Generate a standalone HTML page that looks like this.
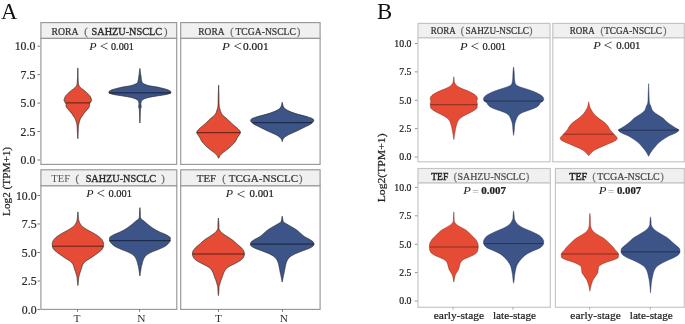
<!DOCTYPE html>
<html><head><meta charset="utf-8"><title>Violin plots</title>
<style>
html,body{margin:0;padding:0;background:#fff;}
body{width:685px;height:324px;overflow:hidden;font-family:"Liberation Serif",serif;}
svg{display:block;filter:blur(0.35px);}
</style></head><body>
<svg width="685" height="324" viewBox="0 0 685 324" font-family="'Liberation Serif', serif"><text x="1.00" y="19.20" font-size="22.60" text-anchor="start" fill="#111" font-weight="normal" font-style="normal" stroke="none">A</text><text x="377.00" y="19.20" font-size="22.80" text-anchor="start" fill="#111" font-weight="normal" font-style="normal" stroke="none">B</text><rect x="40.90" y="22.60" width="135.80" height="15.80" fill="#f0f0f0" stroke="#979797" stroke-width="1.15"/><rect x="40.90" y="38.40" width="135.80" height="126.00" fill="#fff" stroke="#979797" stroke-width="1.15"/><rect x="180.70" y="22.60" width="139.40" height="15.80" fill="#f0f0f0" stroke="#979797" stroke-width="1.15"/><rect x="180.70" y="38.40" width="139.40" height="126.00" fill="#fff" stroke="#979797" stroke-width="1.15"/><rect x="40.90" y="169.80" width="135.90" height="16.10" fill="#f0f0f0" stroke="#979797" stroke-width="1.15"/><rect x="40.90" y="185.90" width="135.90" height="123.50" fill="#fff" stroke="#979797" stroke-width="1.15"/><rect x="180.70" y="169.80" width="139.40" height="16.10" fill="#f0f0f0" stroke="#979797" stroke-width="1.15"/><rect x="180.70" y="185.90" width="139.40" height="123.50" fill="#fff" stroke="#979797" stroke-width="1.15"/><line x1="37.40" y1="46.20" x2="40.00" y2="46.20" stroke="#555" stroke-width="0.8"/><text x="35.30" y="50.21" font-size="11.80" text-anchor="end" fill="#2a2a2a" font-weight="normal" font-style="normal"  stroke="#2a2a2a" stroke-width="0.22">10.0</text><line x1="37.40" y1="74.65" x2="40.00" y2="74.65" stroke="#555" stroke-width="0.8"/><text x="35.30" y="78.66" font-size="11.80" text-anchor="end" fill="#2a2a2a" font-weight="normal" font-style="normal"  stroke="#2a2a2a" stroke-width="0.22">7.5</text><line x1="37.40" y1="103.10" x2="40.00" y2="103.10" stroke="#555" stroke-width="0.8"/><text x="35.30" y="107.11" font-size="11.80" text-anchor="end" fill="#2a2a2a" font-weight="normal" font-style="normal"  stroke="#2a2a2a" stroke-width="0.22">5.0</text><line x1="37.40" y1="131.55" x2="40.00" y2="131.55" stroke="#555" stroke-width="0.8"/><text x="35.30" y="135.56" font-size="11.80" text-anchor="end" fill="#2a2a2a" font-weight="normal" font-style="normal"  stroke="#2a2a2a" stroke-width="0.22">2.5</text><line x1="37.40" y1="160.00" x2="40.00" y2="160.00" stroke="#555" stroke-width="0.8"/><text x="35.30" y="164.01" font-size="11.80" text-anchor="end" fill="#2a2a2a" font-weight="normal" font-style="normal"  stroke="#2a2a2a" stroke-width="0.22">0.0</text><line x1="37.40" y1="195.50" x2="40.00" y2="195.50" stroke="#555" stroke-width="0.8"/><text x="36.60" y="199.51" font-size="11.80" text-anchor="end" fill="#2a2a2a" font-weight="normal" font-style="normal"  stroke="#2a2a2a" stroke-width="0.22">10.0</text><line x1="37.40" y1="224.00" x2="40.00" y2="224.00" stroke="#555" stroke-width="0.8"/><text x="36.60" y="228.01" font-size="11.80" text-anchor="end" fill="#2a2a2a" font-weight="normal" font-style="normal"  stroke="#2a2a2a" stroke-width="0.22">7.5</text><line x1="37.40" y1="252.50" x2="40.00" y2="252.50" stroke="#555" stroke-width="0.8"/><text x="36.60" y="256.51" font-size="11.80" text-anchor="end" fill="#2a2a2a" font-weight="normal" font-style="normal"  stroke="#2a2a2a" stroke-width="0.22">5.0</text><line x1="37.40" y1="281.00" x2="40.00" y2="281.00" stroke="#555" stroke-width="0.8"/><text x="36.60" y="285.01" font-size="11.80" text-anchor="end" fill="#2a2a2a" font-weight="normal" font-style="normal"  stroke="#2a2a2a" stroke-width="0.22">2.5</text><line x1="37.40" y1="309.50" x2="40.00" y2="309.50" stroke="#555" stroke-width="0.8"/><text x="36.60" y="313.51" font-size="11.80" text-anchor="end" fill="#2a2a2a" font-weight="normal" font-style="normal"  stroke="#2a2a2a" stroke-width="0.22">0.0</text><text x="51.45" y="35.00" font-size="9.70" text-anchor="start" fill="#333" font-weight="normal" font-style="normal" textLength="27.10" lengthAdjust="spacingAndGlyphs"  stroke="#333" stroke-width="0.22">RORA</text><text x="84.27" y="35.00" font-size="10.50" text-anchor="start" fill="#666" font-weight="normal" font-style="normal"  stroke="#666" stroke-width="0.22">(</text><text x="91.55" y="35.00" font-size="10.60" text-anchor="start" fill="#2a2a2a" font-weight="normal" font-style="normal" textLength="70.50" lengthAdjust="spacingAndGlyphs" stroke="#2a2a2a" stroke-width="0.35">SAHZU-NSCLC</text><text x="164.07" y="35.00" font-size="10.50" text-anchor="start" fill="#666" font-weight="normal" font-style="normal"  stroke="#666" stroke-width="0.22">)</text><text x="198.25" y="35.00" font-size="9.70" text-anchor="start" fill="#333" font-weight="normal" font-style="normal" textLength="26.30" lengthAdjust="spacingAndGlyphs"  stroke="#333" stroke-width="0.22">RORA</text><text x="230.30" y="35.00" font-size="10.00" text-anchor="start" fill="#666" font-weight="normal" font-style="normal"  stroke="#666" stroke-width="0.22">(</text><text x="235.45" y="35.00" font-size="9.90" text-anchor="start" fill="#333" font-weight="normal" font-style="normal" textLength="60.50" lengthAdjust="spacingAndGlyphs"  stroke="#333" stroke-width="0.22">TCGA-NSCLC</text><text x="296.90" y="35.00" font-size="10.00" text-anchor="start" fill="#666" font-weight="normal" font-style="normal"  stroke="#666" stroke-width="0.22">)</text><text x="51.35" y="182.30" font-size="9.90" text-anchor="start" fill="#555" font-weight="normal" font-style="normal" textLength="18.90" lengthAdjust="spacingAndGlyphs" stroke="none">TEF</text><text x="75.57" y="182.30" font-size="10.50" text-anchor="start" fill="#666" font-weight="normal" font-style="normal"  stroke="#666" stroke-width="0.22">(</text><text x="85.65" y="182.30" font-size="10.80" text-anchor="start" fill="#2a2a2a" font-weight="normal" font-style="normal" textLength="70.40" lengthAdjust="spacingAndGlyphs" stroke="#2a2a2a" stroke-width="0.35">SAHZU-NSCLC</text><text x="161.37" y="182.30" font-size="10.50" text-anchor="start" fill="#666" font-weight="normal" font-style="normal"  stroke="#666" stroke-width="0.22">)</text><text x="196.85" y="182.20" font-size="10.40" text-anchor="start" fill="#333" font-weight="normal" font-style="normal" textLength="19.30" lengthAdjust="spacingAndGlyphs"  stroke="#333" stroke-width="0.22">TEF</text><text x="222.28" y="182.20" font-size="10.40" text-anchor="start" fill="#666" font-weight="normal" font-style="normal"  stroke="#666" stroke-width="0.22">(</text><text x="228.75" y="182.20" font-size="10.40" text-anchor="start" fill="#333" font-weight="normal" font-style="normal" textLength="69.30" lengthAdjust="spacingAndGlyphs"  stroke="#333" stroke-width="0.22">TCGA-NSCLC</text><text x="298.88" y="182.20" font-size="10.40" text-anchor="start" fill="#666" font-weight="normal" font-style="normal"  stroke="#666" stroke-width="0.22">)</text><text x="89.20" y="50.30" font-size="11.20" fill="#222" font-style="italic" stroke="none" textLength="7.30" lengthAdjust="spacingAndGlyphs">P</text><text x="99.70" y="51.40" font-size="14.56" fill="#222" stroke="none" textLength="8.60" lengthAdjust="spacingAndGlyphs">&lt;</text><text x="111.00" y="50.30" font-size="11.20" fill="#222" font-weight="normal" textLength="22.90" lengthAdjust="spacingAndGlyphs" stroke="#222" stroke-width="0.22">0.001</text><text x="222.10" y="50.10" font-size="11.20" fill="#222" font-style="italic" stroke="none" textLength="7.90" lengthAdjust="spacingAndGlyphs">P</text><text x="233.40" y="51.20" font-size="14.56" fill="#222" stroke="none" textLength="8.50" lengthAdjust="spacingAndGlyphs">&lt;</text><text x="243.10" y="50.10" font-size="11.20" fill="#222" font-weight="normal" textLength="25.50" lengthAdjust="spacingAndGlyphs" stroke="#222" stroke-width="0.22">0.001</text><text x="86.20" y="197.20" font-size="11.20" fill="#222" font-style="italic" stroke="none" textLength="7.30" lengthAdjust="spacingAndGlyphs">P</text><text x="96.40" y="198.30" font-size="14.56" fill="#222" stroke="none" textLength="8.50" lengthAdjust="spacingAndGlyphs">&lt;</text><text x="108.40" y="197.20" font-size="11.20" fill="#222" font-weight="normal" textLength="23.60" lengthAdjust="spacingAndGlyphs" stroke="#222" stroke-width="0.22">0.001</text><text x="225.80" y="197.40" font-size="11.20" fill="#222" font-style="italic" stroke="none" textLength="7.30" lengthAdjust="spacingAndGlyphs">P</text><text x="236.40" y="198.50" font-size="14.56" fill="#222" stroke="none" textLength="8.90" lengthAdjust="spacingAndGlyphs">&lt;</text><text x="249.60" y="197.40" font-size="11.20" fill="#222" font-weight="normal" textLength="24.30" lengthAdjust="spacingAndGlyphs" stroke="#222" stroke-width="0.22">0.001</text><line x1="77.50" y1="309.40" x2="77.50" y2="311.80" stroke="#555" stroke-width="0.8"/><text x="76.90" y="321.80" font-size="11.40" text-anchor="middle" fill="#333" font-weight="normal" font-style="normal" stroke="none">T</text><line x1="139.60" y1="309.40" x2="139.60" y2="311.80" stroke="#555" stroke-width="0.8"/><text x="141.40" y="321.80" font-size="11.40" text-anchor="middle" fill="#333" font-weight="normal" font-style="normal" stroke="none">N</text><line x1="218.50" y1="309.40" x2="218.50" y2="311.80" stroke="#555" stroke-width="0.8"/><text x="218.50" y="321.80" font-size="11.40" text-anchor="middle" fill="#333" font-weight="normal" font-style="normal" stroke="none">T</text><line x1="282.50" y1="309.40" x2="282.50" y2="311.80" stroke="#555" stroke-width="0.8"/><text x="283.80" y="321.80" font-size="11.40" text-anchor="middle" fill="#333" font-weight="normal" font-style="normal" stroke="none">N</text><text transform="translate(10.1,181.4) rotate(-90)" font-size="11.1" text-anchor="middle" fill="#222" textLength="69" lengthAdjust="spacingAndGlyphs" stroke="#222" stroke-width="0.22">Log2 (TPM+1)</text><rect x="418.00" y="23.40" width="132.00" height="14.50" fill="#f0f0f0" stroke="#c4c4c4" stroke-width="1.15"/><rect x="418.00" y="37.90" width="132.00" height="123.90" fill="#fff" stroke="#c4c4c4" stroke-width="1.15"/><rect x="552.80" y="23.40" width="131.50" height="14.50" fill="#f0f0f0" stroke="#c4c4c4" stroke-width="1.15"/><rect x="552.80" y="37.90" width="131.50" height="123.90" fill="#fff" stroke="#c4c4c4" stroke-width="1.15"/><rect x="418.00" y="168.50" width="132.30" height="14.50" fill="#f0f0f0" stroke="#c4c4c4" stroke-width="1.15"/><rect x="418.00" y="183.00" width="132.30" height="124.30" fill="#fff" stroke="#c4c4c4" stroke-width="1.15"/><rect x="555.40" y="168.50" width="128.90" height="14.50" fill="#f0f0f0" stroke="#c4c4c4" stroke-width="1.15"/><rect x="555.40" y="183.00" width="128.90" height="124.30" fill="#fff" stroke="#c4c4c4" stroke-width="1.15"/><line x1="414.90" y1="43.50" x2="417.50" y2="43.50" stroke="#777" stroke-width="0.8"/><text x="411.50" y="46.83" font-size="9.80" text-anchor="end" fill="#222" font-weight="normal" font-style="normal"  stroke="#222" stroke-width="0.22">10.0</text><line x1="414.90" y1="71.88" x2="417.50" y2="71.88" stroke="#777" stroke-width="0.8"/><text x="411.50" y="75.21" font-size="9.80" text-anchor="end" fill="#222" font-weight="normal" font-style="normal"  stroke="#222" stroke-width="0.22">7.5</text><line x1="414.90" y1="100.25" x2="417.50" y2="100.25" stroke="#777" stroke-width="0.8"/><text x="411.50" y="103.58" font-size="9.80" text-anchor="end" fill="#222" font-weight="normal" font-style="normal"  stroke="#222" stroke-width="0.22">5.0</text><line x1="414.90" y1="128.62" x2="417.50" y2="128.62" stroke="#777" stroke-width="0.8"/><text x="411.50" y="131.96" font-size="9.80" text-anchor="end" fill="#222" font-weight="normal" font-style="normal"  stroke="#222" stroke-width="0.22">2.5</text><line x1="414.90" y1="157.00" x2="417.50" y2="157.00" stroke="#777" stroke-width="0.8"/><text x="411.50" y="160.33" font-size="9.80" text-anchor="end" fill="#222" font-weight="normal" font-style="normal"  stroke="#222" stroke-width="0.22">0.0</text><line x1="414.90" y1="187.40" x2="417.50" y2="187.40" stroke="#777" stroke-width="0.8"/><text x="411.50" y="190.73" font-size="9.80" text-anchor="end" fill="#222" font-weight="normal" font-style="normal"  stroke="#222" stroke-width="0.22">10.0</text><line x1="414.90" y1="215.80" x2="417.50" y2="215.80" stroke="#777" stroke-width="0.8"/><text x="411.50" y="219.13" font-size="9.80" text-anchor="end" fill="#222" font-weight="normal" font-style="normal"  stroke="#222" stroke-width="0.22">7.5</text><line x1="414.90" y1="244.20" x2="417.50" y2="244.20" stroke="#777" stroke-width="0.8"/><text x="411.50" y="247.53" font-size="9.80" text-anchor="end" fill="#222" font-weight="normal" font-style="normal"  stroke="#222" stroke-width="0.22">5.0</text><line x1="414.90" y1="272.60" x2="417.50" y2="272.60" stroke="#777" stroke-width="0.8"/><text x="411.50" y="275.93" font-size="9.80" text-anchor="end" fill="#222" font-weight="normal" font-style="normal"  stroke="#222" stroke-width="0.22">2.5</text><line x1="414.90" y1="301.00" x2="417.50" y2="301.00" stroke="#777" stroke-width="0.8"/><text x="411.50" y="304.33" font-size="9.80" text-anchor="end" fill="#222" font-weight="normal" font-style="normal"  stroke="#222" stroke-width="0.22">0.0</text><text x="430.85" y="34.00" font-size="9.40" text-anchor="start" fill="#333" font-weight="normal" font-style="normal" textLength="25.00" lengthAdjust="spacingAndGlyphs"  stroke="#333" stroke-width="0.22">RORA</text><text x="460.72" y="34.00" font-size="9.60" text-anchor="start" fill="#666" font-weight="normal" font-style="normal"  stroke="#666" stroke-width="0.22">(</text><text x="465.45" y="34.00" font-size="9.40" text-anchor="start" fill="#333" font-weight="normal" font-style="normal" textLength="63.50" lengthAdjust="spacingAndGlyphs"  stroke="#333" stroke-width="0.22">SAHZU-NSCLC</text><text x="529.32" y="34.00" font-size="9.60" text-anchor="start" fill="#666" font-weight="normal" font-style="normal"  stroke="#666" stroke-width="0.22">)</text><text x="569.65" y="34.00" font-size="9.40" text-anchor="start" fill="#333" font-weight="normal" font-style="normal" textLength="25.10" lengthAdjust="spacingAndGlyphs"  stroke="#333" stroke-width="0.22">RORA</text><text x="600.42" y="34.00" font-size="9.60" text-anchor="start" fill="#666" font-weight="normal" font-style="normal"  stroke="#666" stroke-width="0.22">(</text><text x="604.25" y="34.00" font-size="9.40" text-anchor="start" fill="#333" font-weight="normal" font-style="normal" textLength="57.60" lengthAdjust="spacingAndGlyphs"  stroke="#333" stroke-width="0.22">TCGA-NSCLC</text><text x="663.22" y="34.00" font-size="9.60" text-anchor="start" fill="#666" font-weight="normal" font-style="normal"  stroke="#666" stroke-width="0.22">)</text><text x="431.25" y="180.10" font-size="9.80" text-anchor="start" fill="#222" font-weight="normal" font-style="normal" textLength="17.10" lengthAdjust="spacingAndGlyphs" stroke="#222" stroke-width="0.4">TEF</text><text x="453.72" y="180.10" font-size="9.60" text-anchor="start" fill="#666" font-weight="normal" font-style="normal"  stroke="#666" stroke-width="0.22">(</text><text x="457.55" y="180.10" font-size="9.60" text-anchor="start" fill="#4a4a4a" font-weight="normal" font-style="normal" textLength="67.90" lengthAdjust="spacingAndGlyphs"  stroke="#4a4a4a" stroke-width="0.22">SAHZU-NSCLC</text><text x="526.12" y="180.10" font-size="9.60" text-anchor="start" fill="#666" font-weight="normal" font-style="normal"  stroke="#666" stroke-width="0.22">)</text><text x="569.25" y="180.10" font-size="9.80" text-anchor="start" fill="#222" font-weight="normal" font-style="normal" textLength="18.00" lengthAdjust="spacingAndGlyphs" stroke="#222" stroke-width="0.4">TEF</text><text x="592.52" y="180.10" font-size="9.60" text-anchor="start" fill="#666" font-weight="normal" font-style="normal"  stroke="#666" stroke-width="0.22">(</text><text x="597.25" y="180.10" font-size="9.60" text-anchor="start" fill="#444" font-weight="normal" font-style="normal" textLength="62.40" lengthAdjust="spacingAndGlyphs"  stroke="#444" stroke-width="0.22">TCGA-NSCLC</text><text x="660.62" y="180.10" font-size="9.60" text-anchor="start" fill="#666" font-weight="normal" font-style="normal"  stroke="#666" stroke-width="0.22">)</text><text x="460.00" y="49.90" font-size="11.00" fill="#222" font-style="italic" stroke="none" textLength="7.60" lengthAdjust="spacingAndGlyphs">P</text><text x="470.50" y="51.00" font-size="14.30" fill="#222" stroke="none" textLength="8.60" lengthAdjust="spacingAndGlyphs">&lt;</text><text x="482.60" y="49.90" font-size="11.00" fill="#222" font-weight="normal" textLength="23.50" lengthAdjust="spacingAndGlyphs" stroke="#222" stroke-width="0.22">0.001</text><text x="593.20" y="49.10" font-size="11.00" fill="#222" font-style="italic" stroke="none" textLength="7.60" lengthAdjust="spacingAndGlyphs">P</text><text x="603.40" y="50.20" font-size="14.30" fill="#222" stroke="none" textLength="8.90" lengthAdjust="spacingAndGlyphs">&lt;</text><text x="616.20" y="49.10" font-size="11.00" fill="#222" font-weight="normal" textLength="24.30" lengthAdjust="spacingAndGlyphs" stroke="#222" stroke-width="0.22">0.001</text><text x="463.20" y="194.00" font-size="11.00" fill="#222" font-style="italic" stroke="none" textLength="7.60" lengthAdjust="spacingAndGlyphs">P</text><text x="472.20" y="195.60" font-size="13.20" fill="#aaa" stroke="none" textLength="6.70" lengthAdjust="spacingAndGlyphs">=</text><text x="481.20" y="194.00" font-size="11.00" fill="#222" font-weight="bold" textLength="24.80" lengthAdjust="spacingAndGlyphs" stroke="#222" stroke-width="0.22">0.007</text><text x="598.80" y="194.00" font-size="11.00" fill="#222" font-style="italic" stroke="none" textLength="7.70" lengthAdjust="spacingAndGlyphs">P</text><text x="607.80" y="195.60" font-size="13.20" fill="#aaa" stroke="none" textLength="6.70" lengthAdjust="spacingAndGlyphs">=</text><text x="616.90" y="194.00" font-size="11.00" fill="#222" font-weight="bold" textLength="24.30" lengthAdjust="spacingAndGlyphs" stroke="#222" stroke-width="0.22">0.007</text><line x1="453.00" y1="307.30" x2="453.00" y2="309.70" stroke="#999" stroke-width="0.8"/><text x="458.90" y="318.90" font-size="11.30" text-anchor="middle" fill="#222" font-weight="normal" font-style="normal" textLength="50.40" lengthAdjust="spacingAndGlyphs"  stroke="#222" stroke-width="0.22">early-stage</text><line x1="512.90" y1="307.30" x2="512.90" y2="309.70" stroke="#999" stroke-width="0.8"/><text x="514.50" y="318.90" font-size="11.30" text-anchor="middle" fill="#222" font-weight="normal" font-style="normal" textLength="43.10" lengthAdjust="spacingAndGlyphs"  stroke="#222" stroke-width="0.22">late-stage</text><line x1="589.60" y1="307.30" x2="589.60" y2="309.70" stroke="#999" stroke-width="0.8"/><text x="595.60" y="318.90" font-size="11.30" text-anchor="middle" fill="#222" font-weight="normal" font-style="normal" textLength="50.50" lengthAdjust="spacingAndGlyphs"  stroke="#222" stroke-width="0.22">early-stage</text><line x1="650.30" y1="307.30" x2="650.30" y2="309.70" stroke="#999" stroke-width="0.8"/><text x="651.30" y="318.90" font-size="11.30" text-anchor="middle" fill="#222" font-weight="normal" font-style="normal" textLength="43.10" lengthAdjust="spacingAndGlyphs"  stroke="#222" stroke-width="0.22">late-stage</text><text transform="translate(385.4,167.9) rotate(-90)" font-size="11.4" text-anchor="middle" fill="#222" textLength="68.9" lengthAdjust="spacingAndGlyphs" stroke="#222" stroke-width="0.22">Log2(TPM+1)</text><polygon points="77.80,67.90 77.81,68.15 77.82,68.40 77.82,68.65 77.83,68.90 77.84,69.15 77.85,69.40 77.85,69.65 77.86,69.90 77.87,70.15 77.88,70.40 77.88,70.65 77.89,70.90 77.90,71.15 77.90,71.40 77.91,71.65 77.92,71.90 77.93,72.15 77.93,72.40 77.94,72.65 77.95,72.90 77.95,73.15 77.96,73.40 77.97,73.65 77.97,73.90 77.98,74.15 77.99,74.40 78.00,74.65 78.00,74.90 78.01,75.16 78.02,75.41 78.03,75.66 78.04,75.91 78.04,76.16 78.05,76.41 78.06,76.66 78.07,76.91 78.08,77.16 78.09,77.41 78.10,77.66 78.11,77.91 78.12,78.16 78.13,78.41 78.14,78.66 78.15,78.91 78.16,79.16 78.17,79.41 78.18,79.66 78.20,79.91 78.21,80.16 78.22,80.41 78.23,80.66 78.24,80.91 78.26,81.16 78.27,81.41 78.29,81.66 78.30,81.91 78.32,82.16 78.34,82.41 78.36,82.66 78.38,82.91 78.40,83.16 78.43,83.41 78.46,83.66 78.49,83.91 78.53,84.16 78.58,84.41 78.66,84.66 78.75,84.91 78.84,85.16 78.95,85.41 79.08,85.66 79.22,85.91 79.39,86.16 79.57,86.41 79.77,86.66 79.98,86.91 80.20,87.16 80.43,87.41 80.66,87.66 80.92,87.91 81.22,88.16 81.53,88.41 81.87,88.66 82.21,88.91 82.56,89.17 82.90,89.42 83.23,89.67 83.54,89.92 83.86,90.17 84.18,90.42 84.49,90.67 84.80,90.92 85.11,91.17 85.42,91.42 85.72,91.67 86.01,91.92 86.29,92.17 86.57,92.42 86.84,92.67 87.11,92.92 87.38,93.17 87.64,93.42 87.89,93.67 88.14,93.92 88.37,94.17 88.60,94.42 88.83,94.67 89.06,94.92 89.28,95.17 89.50,95.42 89.70,95.67 89.89,95.92 90.06,96.17 90.21,96.42 90.35,96.67 90.48,96.92 90.61,97.17 90.73,97.42 90.84,97.67 90.95,97.92 91.04,98.17 91.12,98.42 91.19,98.67 91.26,98.92 91.32,99.17 91.38,99.42 91.44,99.67 91.48,99.92 91.50,100.17 91.49,100.42 91.45,100.67 91.37,100.92 91.25,101.17 91.12,101.42 90.98,101.67 90.84,101.92 90.69,102.17 90.49,102.42 90.26,102.67 90.05,102.92 89.87,103.17 89.74,103.43 89.63,103.68 89.54,103.93 89.50,104.18 89.50,104.43 89.50,104.68 89.50,104.93 89.50,105.18 89.50,105.43 89.50,105.68 89.50,105.93 89.47,106.18 89.40,106.43 89.30,106.68 89.17,106.93 89.03,107.18 88.89,107.43 88.76,107.68 88.61,107.93 88.43,108.18 88.25,108.43 88.05,108.68 87.84,108.93 87.62,109.18 87.41,109.43 87.20,109.68 86.99,109.93 86.78,110.18 86.57,110.43 86.35,110.68 86.13,110.93 85.91,111.18 85.69,111.43 85.47,111.68 85.26,111.93 85.05,112.18 84.83,112.43 84.62,112.68 84.41,112.93 84.20,113.18 83.99,113.43 83.79,113.68 83.60,113.93 83.41,114.18 83.24,114.43 83.07,114.68 82.92,114.93 82.76,115.18 82.61,115.43 82.46,115.68 82.31,115.93 82.15,116.18 81.98,116.43 81.79,116.68 81.59,116.93 81.38,117.18 81.18,117.43 81.00,117.69 80.84,117.94 80.70,118.19 80.57,118.44 80.46,118.69 80.35,118.94 80.24,119.19 80.14,119.44 80.05,119.69 79.96,119.94 79.87,120.19 79.78,120.44 79.70,120.69 79.62,120.94 79.54,121.19 79.46,121.44 79.38,121.69 79.31,121.94 79.24,122.19 79.18,122.44 79.11,122.69 79.06,122.94 79.00,123.19 78.95,123.44 78.90,123.69 78.85,123.94 78.80,124.19 78.76,124.44 78.71,124.69 78.67,124.94 78.63,125.19 78.60,125.44 78.56,125.69 78.53,125.94 78.51,126.19 78.49,126.44 78.47,126.69 78.45,126.94 78.43,127.19 78.42,127.44 78.40,127.69 78.39,127.94 78.38,128.19 78.36,128.44 78.35,128.69 78.34,128.94 78.33,129.19 78.32,129.44 78.31,129.69 78.30,129.94 78.29,130.19 78.27,130.44 78.26,130.69 78.25,130.94 78.24,131.19 78.23,131.44 78.22,131.70 78.20,131.95 78.19,132.20 78.17,132.45 78.16,132.70 78.15,132.95 78.13,133.20 78.12,133.45 78.10,133.70 78.09,133.95 78.07,134.20 78.06,134.45 78.04,134.70 78.03,134.95 78.01,135.20 78.00,135.45 77.98,135.70 77.97,135.95 77.95,136.20 77.94,136.45 77.92,136.70 77.91,136.95 77.89,137.20 77.88,137.45 77.86,137.70 77.85,137.95 77.83,138.20 77.81,138.45 77.80,138.70 77.79,138.45 77.77,138.20 77.75,137.95 77.74,137.70 77.72,137.45 77.71,137.20 77.69,136.95 77.68,136.70 77.66,136.45 77.65,136.20 77.63,135.95 77.62,135.70 77.60,135.45 77.59,135.20 77.57,134.95 77.56,134.70 77.54,134.45 77.53,134.20 77.51,133.95 77.50,133.70 77.48,133.45 77.47,133.20 77.45,132.95 77.44,132.70 77.43,132.45 77.41,132.20 77.40,131.95 77.38,131.70 77.37,131.44 77.36,131.19 77.35,130.94 77.34,130.69 77.33,130.44 77.31,130.19 77.30,129.94 77.29,129.69 77.28,129.44 77.27,129.19 77.26,128.94 77.25,128.69 77.24,128.44 77.22,128.19 77.21,127.94 77.20,127.69 77.18,127.44 77.17,127.19 77.15,126.94 77.13,126.69 77.11,126.44 77.09,126.19 77.07,125.94 77.04,125.69 77.00,125.44 76.97,125.19 76.93,124.94 76.89,124.69 76.84,124.44 76.80,124.19 76.75,123.94 76.70,123.69 76.65,123.44 76.60,123.19 76.54,122.94 76.49,122.69 76.42,122.44 76.36,122.19 76.29,121.94 76.22,121.69 76.14,121.44 76.06,121.19 75.98,120.94 75.90,120.69 75.82,120.44 75.73,120.19 75.64,119.94 75.55,119.69 75.46,119.44 75.36,119.19 75.25,118.94 75.14,118.69 75.03,118.44 74.90,118.19 74.76,117.94 74.60,117.69 74.42,117.43 74.22,117.18 74.01,116.93 73.81,116.68 73.62,116.43 73.45,116.18 73.29,115.93 73.14,115.68 72.99,115.43 72.84,115.18 72.68,114.93 72.53,114.68 72.36,114.43 72.19,114.18 72.00,113.93 71.81,113.68 71.61,113.43 71.40,113.18 71.19,112.93 70.98,112.68 70.77,112.43 70.55,112.18 70.34,111.93 70.13,111.68 69.91,111.43 69.69,111.18 69.47,110.93 69.25,110.68 69.03,110.43 68.82,110.18 68.61,109.93 68.40,109.68 68.19,109.43 67.98,109.18 67.76,108.93 67.55,108.68 67.35,108.43 67.17,108.18 66.99,107.93 66.84,107.68 66.71,107.43 66.57,107.18 66.43,106.93 66.30,106.68 66.20,106.43 66.13,106.18 66.10,105.93 66.10,105.68 66.10,105.43 66.10,105.18 66.10,104.93 66.10,104.68 66.10,104.43 66.10,104.18 66.06,103.93 65.97,103.68 65.86,103.43 65.73,103.17 65.55,102.92 65.34,102.67 65.11,102.42 64.91,102.17 64.76,101.92 64.62,101.67 64.48,101.42 64.35,101.17 64.23,100.92 64.15,100.67 64.11,100.42 64.10,100.17 64.12,99.92 64.16,99.67 64.22,99.42 64.28,99.17 64.34,98.92 64.41,98.67 64.48,98.42 64.56,98.17 64.65,97.92 64.76,97.67 64.87,97.42 64.99,97.17 65.12,96.92 65.25,96.67 65.39,96.42 65.54,96.17 65.71,95.92 65.90,95.67 66.10,95.42 66.32,95.17 66.54,94.92 66.77,94.67 67.00,94.42 67.23,94.17 67.46,93.92 67.71,93.67 67.96,93.42 68.22,93.17 68.49,92.92 68.76,92.67 69.03,92.42 69.31,92.17 69.59,91.92 69.88,91.67 70.18,91.42 70.49,91.17 70.80,90.92 71.11,90.67 71.42,90.42 71.74,90.17 72.06,89.92 72.37,89.67 72.70,89.42 73.04,89.17 73.39,88.91 73.73,88.66 74.07,88.41 74.38,88.16 74.68,87.91 74.94,87.66 75.17,87.41 75.40,87.16 75.62,86.91 75.83,86.66 76.03,86.41 76.21,86.16 76.38,85.91 76.52,85.66 76.65,85.41 76.76,85.16 76.85,84.91 76.94,84.66 77.02,84.41 77.07,84.16 77.11,83.91 77.14,83.66 77.17,83.41 77.20,83.16 77.22,82.91 77.24,82.66 77.26,82.41 77.28,82.16 77.30,81.91 77.31,81.66 77.33,81.41 77.34,81.16 77.36,80.91 77.37,80.66 77.38,80.41 77.39,80.16 77.40,79.91 77.42,79.66 77.43,79.41 77.44,79.16 77.45,78.91 77.46,78.66 77.47,78.41 77.48,78.16 77.49,77.91 77.50,77.66 77.51,77.41 77.52,77.16 77.53,76.91 77.54,76.66 77.55,76.41 77.56,76.16 77.56,75.91 77.57,75.66 77.58,75.41 77.59,75.16 77.60,74.90 77.60,74.65 77.61,74.40 77.62,74.15 77.63,73.90 77.63,73.65 77.64,73.40 77.65,73.15 77.65,72.90 77.66,72.65 77.67,72.40 77.67,72.15 77.68,71.90 77.69,71.65 77.70,71.40 77.70,71.15 77.71,70.90 77.72,70.65 77.72,70.40 77.73,70.15 77.74,69.90 77.75,69.65 77.75,69.40 77.76,69.15 77.77,68.90 77.78,68.65 77.78,68.40 77.79,68.15" fill="#E64B35" stroke="#2a2a2a" stroke-width="0.75" stroke-linejoin="round"/><line x1="65.53" y1="102.90" x2="90.07" y2="102.90" stroke="#000" stroke-opacity="0.60" stroke-width="1.00"/><polygon points="139.90,68.50 139.94,68.75 139.97,69.00 140.01,69.25 140.05,69.50 140.09,69.75 140.13,70.00 140.17,70.25 140.20,70.50 140.24,70.75 140.28,71.00 140.31,71.25 140.34,71.50 140.37,71.75 140.40,72.00 140.42,72.25 140.45,72.50 140.47,72.75 140.48,73.00 140.50,73.25 140.52,73.50 140.54,73.75 140.57,74.00 140.59,74.25 140.63,74.50 140.68,74.75 140.74,75.00 140.81,75.25 140.87,75.50 140.93,75.75 140.98,76.00 141.02,76.25 141.05,76.50 141.08,76.75 141.11,77.00 141.13,77.25 141.15,77.50 141.17,77.75 141.20,78.00 141.22,78.25 141.25,78.50 141.28,78.75 141.31,79.00 141.35,79.25 141.39,79.50 141.43,79.75 141.47,80.00 141.52,80.25 141.57,80.50 141.63,80.75 141.69,81.00 141.76,81.25 141.83,81.50 141.92,81.75 142.02,82.00 142.15,82.25 142.30,82.50 142.49,82.75 142.70,83.00 142.98,83.25 143.36,83.50 143.81,83.75 144.30,84.00 144.81,84.25 145.37,84.50 145.98,84.75 146.65,85.00 147.40,85.25 148.24,85.50 149.22,85.75 150.51,86.00 152.02,86.25 153.64,86.50 155.26,86.75 156.76,87.00 158.04,87.25 159.17,87.50 160.25,87.75 161.26,88.00 162.23,88.25 163.17,88.50 164.08,88.75 165.02,89.00 165.96,89.25 166.86,89.50 167.68,89.75 168.37,90.00 168.89,90.25 169.34,90.50 169.76,90.75 170.13,91.00 170.44,91.25 170.66,91.50 170.79,91.75 170.83,92.00 170.87,92.25 170.89,92.50 170.90,92.75 170.79,93.00 170.39,93.25 169.75,93.50 168.94,93.75 168.03,94.00 167.09,94.25 166.04,94.50 164.67,94.75 163.08,95.00 161.39,95.25 159.69,95.50 158.10,95.75 156.61,96.00 155.07,96.25 153.53,96.50 152.04,96.75 150.66,97.00 149.44,97.25 148.41,97.50 147.48,97.75 146.62,98.00 145.84,98.25 145.14,98.50 144.52,98.75 144.00,99.00 143.51,99.25 143.06,99.50 142.65,99.75 142.31,100.00 142.03,100.25 141.83,100.50 141.65,100.75 141.50,101.00 141.37,101.25 141.26,101.50 141.17,101.75 141.10,102.00 141.04,102.25 140.99,102.50 140.94,102.75 140.89,103.00 140.85,103.25 140.82,103.50 140.81,103.75 140.80,104.00 140.81,104.25 140.84,104.50 140.88,104.75 140.92,105.00 140.98,105.25 141.03,105.50 141.09,105.75 141.13,106.00 141.17,106.25 141.19,106.50 141.20,106.75 141.17,107.00 141.11,107.25 141.02,107.50 140.92,107.75 140.81,108.00 140.70,108.25 140.61,108.50 140.54,108.75 140.50,109.00 140.48,109.25 140.46,109.50 140.45,109.75 140.43,110.00 140.42,110.25 140.40,110.50 140.39,110.75 140.38,111.00 140.37,111.25 140.36,111.50 140.35,111.75 140.35,112.00 140.34,112.25 140.33,112.50 140.32,112.75 140.32,113.00 140.31,113.25 140.30,113.50 140.29,113.75 140.29,114.00 140.28,114.25 140.27,114.50 140.26,114.75 140.25,115.00 140.24,115.25 140.23,115.50 140.22,115.75 140.21,116.00 140.20,116.25 140.19,116.50 140.17,116.75 140.16,117.00 140.15,117.25 140.14,117.50 140.13,117.75 140.12,118.00 140.11,118.25 140.10,118.50 140.09,118.75 140.08,119.00 140.07,119.25 140.05,119.50 140.04,119.75 140.03,120.00 140.02,120.25 140.01,120.50 140.00,120.75 139.99,121.00 139.98,121.25 139.97,121.50 139.95,121.75 139.94,122.00 139.93,122.25 139.92,122.50 139.91,122.75 139.90,123.00 139.89,122.75 139.88,122.50 139.87,122.25 139.86,122.00 139.85,121.75 139.83,121.50 139.82,121.25 139.81,121.00 139.80,120.75 139.79,120.50 139.78,120.25 139.77,120.00 139.76,119.75 139.75,119.50 139.73,119.25 139.72,119.00 139.71,118.75 139.70,118.50 139.69,118.25 139.68,118.00 139.67,117.75 139.66,117.50 139.65,117.25 139.64,117.00 139.63,116.75 139.61,116.50 139.60,116.25 139.59,116.00 139.58,115.75 139.57,115.50 139.56,115.25 139.55,115.00 139.54,114.75 139.53,114.50 139.52,114.25 139.51,114.00 139.51,113.75 139.50,113.50 139.49,113.25 139.48,113.00 139.48,112.75 139.47,112.50 139.46,112.25 139.45,112.00 139.45,111.75 139.44,111.50 139.43,111.25 139.42,111.00 139.41,110.75 139.40,110.50 139.38,110.25 139.37,110.00 139.35,109.75 139.34,109.50 139.32,109.25 139.30,109.00 139.26,108.75 139.19,108.50 139.10,108.25 138.99,108.00 138.88,107.75 138.78,107.50 138.69,107.25 138.63,107.00 138.60,106.75 138.61,106.50 138.63,106.25 138.67,106.00 138.71,105.75 138.77,105.50 138.82,105.25 138.88,105.00 138.92,104.75 138.96,104.50 138.99,104.25 139.00,104.00 138.99,103.75 138.98,103.50 138.95,103.25 138.91,103.00 138.86,102.75 138.81,102.50 138.76,102.25 138.70,102.00 138.63,101.75 138.54,101.50 138.43,101.25 138.30,101.00 138.15,100.75 137.97,100.50 137.77,100.25 137.49,100.00 137.15,99.75 136.74,99.50 136.29,99.25 135.80,99.00 135.28,98.75 134.66,98.50 133.96,98.25 133.18,98.00 132.32,97.75 131.39,97.50 130.36,97.25 129.14,97.00 127.76,96.75 126.27,96.50 124.73,96.25 123.19,96.00 121.70,95.75 120.11,95.50 118.41,95.25 116.72,95.00 115.13,94.75 113.76,94.50 112.71,94.25 111.77,94.00 110.86,93.75 110.05,93.50 109.41,93.25 109.01,93.00 108.90,92.75 108.91,92.50 108.93,92.25 108.97,92.00 109.01,91.75 109.14,91.50 109.36,91.25 109.67,91.00 110.04,90.75 110.46,90.50 110.91,90.25 111.43,90.00 112.12,89.75 112.94,89.50 113.84,89.25 114.78,89.00 115.72,88.75 116.63,88.50 117.57,88.25 118.54,88.00 119.55,87.75 120.63,87.50 121.76,87.25 123.04,87.00 124.54,86.75 126.16,86.50 127.78,86.25 129.29,86.00 130.58,85.75 131.56,85.50 132.40,85.25 133.15,85.00 133.82,84.75 134.43,84.50 134.99,84.25 135.50,84.00 135.99,83.75 136.44,83.50 136.82,83.25 137.10,83.00 137.31,82.75 137.50,82.50 137.65,82.25 137.78,82.00 137.88,81.75 137.97,81.50 138.04,81.25 138.11,81.00 138.17,80.75 138.23,80.50 138.28,80.25 138.33,80.00 138.37,79.75 138.41,79.50 138.45,79.25 138.49,79.00 138.52,78.75 138.55,78.50 138.58,78.25 138.60,78.00 138.63,77.75 138.65,77.50 138.67,77.25 138.69,77.00 138.72,76.75 138.75,76.50 138.78,76.25 138.82,76.00 138.87,75.75 138.93,75.50 138.99,75.25 139.06,75.00 139.12,74.75 139.17,74.50 139.21,74.25 139.23,74.00 139.26,73.75 139.28,73.50 139.30,73.25 139.32,73.00 139.33,72.75 139.35,72.50 139.38,72.25 139.40,72.00 139.43,71.75 139.46,71.50 139.49,71.25 139.52,71.00 139.56,70.75 139.60,70.50 139.63,70.25 139.67,70.00 139.71,69.75 139.75,69.50 139.79,69.25 139.83,69.00 139.86,68.75" fill="#3C5488" stroke="#2a2a2a" stroke-width="0.75" stroke-linejoin="round"/><line x1="108.93" y1="92.90" x2="170.87" y2="92.90" stroke="#000" stroke-opacity="0.60" stroke-width="1.00"/><polygon points="218.60,85.20 218.61,85.45 218.62,85.70 218.62,85.95 218.63,86.20 218.64,86.45 218.65,86.70 218.66,86.95 218.67,87.20 218.67,87.45 218.68,87.70 218.69,87.95 218.70,88.20 218.71,88.45 218.72,88.70 218.73,88.96 218.73,89.21 218.74,89.46 218.75,89.71 218.76,89.96 218.77,90.21 218.78,90.46 218.78,90.71 218.79,90.96 218.80,91.21 218.81,91.46 218.82,91.71 218.82,91.96 218.83,92.21 218.84,92.46 218.85,92.71 218.85,92.96 218.86,93.21 218.87,93.46 218.87,93.71 218.88,93.96 218.88,94.21 218.89,94.46 218.89,94.71 218.90,94.96 218.90,95.21 218.91,95.46 218.91,95.71 218.92,95.96 218.92,96.22 218.92,96.47 218.93,96.72 218.93,96.97 218.93,97.22 218.94,97.47 218.94,97.72 218.94,97.97 218.94,98.22 218.95,98.47 218.95,98.72 218.95,98.97 218.95,99.22 218.96,99.47 218.96,99.72 218.96,99.97 218.97,100.22 218.97,100.47 218.97,100.72 218.98,100.97 218.98,101.22 218.99,101.47 218.99,101.72 219.00,101.97 219.01,102.22 219.01,102.47 219.02,102.72 219.03,102.97 219.04,103.22 219.05,103.48 219.06,103.73 219.07,103.98 219.08,104.23 219.09,104.48 219.11,104.73 219.12,104.98 219.14,105.23 219.16,105.48 219.18,105.73 219.20,105.98 219.22,106.23 219.26,106.48 219.30,106.73 219.34,106.98 219.39,107.23 219.45,107.48 219.51,107.73 219.57,107.98 219.63,108.23 219.70,108.48 219.76,108.73 219.84,108.98 219.93,109.23 220.02,109.48 220.11,109.73 220.19,109.98 220.27,110.23 220.35,110.48 220.42,110.73 220.49,110.99 220.56,111.24 220.63,111.49 220.71,111.74 220.79,111.99 220.88,112.24 220.97,112.49 221.07,112.74 221.19,112.99 221.32,113.24 221.46,113.49 221.62,113.74 221.79,113.99 221.97,114.24 222.16,114.49 222.36,114.74 222.57,114.99 222.78,115.24 223.00,115.49 223.23,115.74 223.49,115.99 223.78,116.24 224.08,116.49 224.40,116.74 224.73,116.99 225.06,117.24 225.39,117.49 225.72,117.74 226.04,117.99 226.34,118.25 226.62,118.50 226.90,118.75 227.18,119.00 227.45,119.25 227.72,119.50 227.99,119.75 228.25,120.00 228.52,120.25 228.78,120.50 229.04,120.75 229.30,121.00 229.55,121.25 229.81,121.50 230.05,121.75 230.30,122.00 230.54,122.25 230.78,122.50 231.03,122.75 231.27,123.00 231.52,123.25 231.78,123.50 232.04,123.75 232.31,124.00 232.59,124.25 232.88,124.50 233.17,124.75 233.47,125.00 233.77,125.25 234.07,125.51 234.37,125.76 234.68,126.01 234.98,126.26 235.27,126.51 235.57,126.76 235.86,127.01 236.17,127.26 236.48,127.51 236.79,127.76 237.10,128.01 237.40,128.26 237.69,128.51 237.97,128.76 238.23,129.01 238.47,129.26 238.70,129.51 238.92,129.76 239.15,130.01 239.37,130.26 239.59,130.51 239.79,130.76 239.96,131.01 240.11,131.26 240.22,131.51 240.29,131.76 240.34,132.01 240.37,132.26 240.39,132.51 240.40,132.77 240.36,133.02 240.27,133.27 240.14,133.52 239.98,133.77 239.80,134.02 239.62,134.27 239.43,134.52 239.25,134.77 239.09,135.02 238.94,135.27 238.78,135.52 238.61,135.77 238.45,136.02 238.28,136.27 238.12,136.52 237.95,136.77 237.79,137.02 237.62,137.27 237.47,137.52 237.32,137.77 237.17,138.02 237.03,138.27 236.90,138.52 236.77,138.77 236.65,139.02 236.53,139.27 236.40,139.52 236.28,139.77 236.16,140.03 236.03,140.28 235.90,140.53 235.77,140.78 235.62,141.03 235.47,141.28 235.32,141.53 235.15,141.78 234.96,142.03 234.77,142.28 234.56,142.53 234.34,142.78 234.11,143.03 233.87,143.28 233.63,143.53 233.39,143.78 233.15,144.03 232.91,144.28 232.68,144.53 232.44,144.78 232.20,145.03 231.96,145.28 231.72,145.53 231.48,145.78 231.23,146.03 230.97,146.28 230.72,146.53 230.45,146.78 230.18,147.03 229.91,147.28 229.62,147.54 229.32,147.79 229.02,148.04 228.71,148.29 228.39,148.54 228.07,148.79 227.75,149.04 227.42,149.29 227.10,149.54 226.77,149.79 226.45,150.04 226.12,150.29 225.78,150.54 225.44,150.79 225.10,151.04 224.75,151.29 224.41,151.54 224.07,151.79 223.73,152.04 223.41,152.29 223.10,152.54 222.81,152.79 222.52,153.04 222.24,153.29 221.95,153.54 221.68,153.79 221.40,154.04 221.14,154.29 220.89,154.54 220.65,154.80 220.43,155.05 220.22,155.30 220.04,155.55 219.87,155.80 219.72,156.05 219.58,156.30 219.44,156.55 219.32,156.80 219.20,157.05 219.08,157.30 218.96,157.55 218.85,157.80 218.73,158.05 218.60,158.30 218.47,158.05 218.35,157.80 218.24,157.55 218.12,157.30 218.00,157.05 217.88,156.80 217.76,156.55 217.62,156.30 217.48,156.05 217.33,155.80 217.16,155.55 216.98,155.30 216.77,155.05 216.55,154.80 216.31,154.54 216.06,154.29 215.80,154.04 215.52,153.79 215.25,153.54 214.96,153.29 214.68,153.04 214.39,152.79 214.10,152.54 213.79,152.29 213.47,152.04 213.13,151.79 212.79,151.54 212.45,151.29 212.10,151.04 211.76,150.79 211.42,150.54 211.08,150.29 210.75,150.04 210.43,149.79 210.10,149.54 209.78,149.29 209.45,149.04 209.13,148.79 208.81,148.54 208.49,148.29 208.18,148.04 207.88,147.79 207.58,147.54 207.29,147.28 207.02,147.03 206.75,146.78 206.48,146.53 206.23,146.28 205.97,146.03 205.72,145.78 205.48,145.53 205.24,145.28 205.00,145.03 204.76,144.78 204.52,144.53 204.29,144.28 204.05,144.03 203.81,143.78 203.57,143.53 203.33,143.28 203.09,143.03 202.86,142.78 202.64,142.53 202.43,142.28 202.24,142.03 202.05,141.78 201.88,141.53 201.73,141.28 201.58,141.03 201.43,140.78 201.30,140.53 201.17,140.28 201.04,140.03 200.92,139.77 200.80,139.52 200.67,139.27 200.55,139.02 200.43,138.77 200.30,138.52 200.17,138.27 200.03,138.02 199.88,137.77 199.73,137.52 199.58,137.27 199.41,137.02 199.25,136.77 199.08,136.52 198.92,136.27 198.75,136.02 198.59,135.77 198.42,135.52 198.26,135.27 198.11,135.02 197.95,134.77 197.77,134.52 197.58,134.27 197.40,134.02 197.22,133.77 197.06,133.52 196.93,133.27 196.84,133.02 196.80,132.77 196.81,132.51 196.83,132.26 196.86,132.01 196.91,131.76 196.98,131.51 197.09,131.26 197.24,131.01 197.41,130.76 197.61,130.51 197.83,130.26 198.05,130.01 198.28,129.76 198.50,129.51 198.73,129.26 198.97,129.01 199.23,128.76 199.51,128.51 199.80,128.26 200.10,128.01 200.41,127.76 200.72,127.51 201.03,127.26 201.34,127.01 201.63,126.76 201.93,126.51 202.22,126.26 202.52,126.01 202.83,125.76 203.13,125.51 203.43,125.25 203.73,125.00 204.03,124.75 204.32,124.50 204.61,124.25 204.89,124.00 205.16,123.75 205.42,123.50 205.68,123.25 205.93,123.00 206.17,122.75 206.42,122.50 206.66,122.25 206.90,122.00 207.15,121.75 207.39,121.50 207.65,121.25 207.90,121.00 208.16,120.75 208.42,120.50 208.68,120.25 208.95,120.00 209.21,119.75 209.48,119.50 209.75,119.25 210.02,119.00 210.30,118.75 210.58,118.50 210.86,118.25 211.16,117.99 211.48,117.74 211.81,117.49 212.14,117.24 212.47,116.99 212.80,116.74 213.12,116.49 213.42,116.24 213.71,115.99 213.97,115.74 214.20,115.49 214.42,115.24 214.63,114.99 214.84,114.74 215.04,114.49 215.23,114.24 215.41,113.99 215.58,113.74 215.74,113.49 215.88,113.24 216.01,112.99 216.13,112.74 216.23,112.49 216.32,112.24 216.41,111.99 216.49,111.74 216.57,111.49 216.64,111.24 216.71,110.99 216.78,110.73 216.85,110.48 216.93,110.23 217.01,109.98 217.09,109.73 217.18,109.48 217.27,109.23 217.36,108.98 217.44,108.73 217.50,108.48 217.57,108.23 217.63,107.98 217.69,107.73 217.75,107.48 217.81,107.23 217.86,106.98 217.90,106.73 217.94,106.48 217.98,106.23 218.00,105.98 218.02,105.73 218.04,105.48 218.06,105.23 218.08,104.98 218.09,104.73 218.11,104.48 218.12,104.23 218.13,103.98 218.14,103.73 218.15,103.48 218.16,103.22 218.17,102.97 218.18,102.72 218.19,102.47 218.19,102.22 218.20,101.97 218.21,101.72 218.21,101.47 218.22,101.22 218.22,100.97 218.23,100.72 218.23,100.47 218.23,100.22 218.24,99.97 218.24,99.72 218.24,99.47 218.25,99.22 218.25,98.97 218.25,98.72 218.25,98.47 218.26,98.22 218.26,97.97 218.26,97.72 218.26,97.47 218.27,97.22 218.27,96.97 218.27,96.72 218.28,96.47 218.28,96.22 218.28,95.96 218.29,95.71 218.29,95.46 218.30,95.21 218.30,94.96 218.31,94.71 218.31,94.46 218.32,94.21 218.32,93.96 218.33,93.71 218.33,93.46 218.34,93.21 218.35,92.96 218.35,92.71 218.36,92.46 218.37,92.21 218.38,91.96 218.38,91.71 218.39,91.46 218.40,91.21 218.41,90.96 218.42,90.71 218.42,90.46 218.43,90.21 218.44,89.96 218.45,89.71 218.46,89.46 218.47,89.21 218.47,88.96 218.48,88.70 218.49,88.45 218.50,88.20 218.51,87.95 218.52,87.70 218.53,87.45 218.53,87.20 218.54,86.95 218.55,86.70 218.56,86.45 218.57,86.20 218.58,85.95 218.58,85.70 218.59,85.45" fill="#E64B35" stroke="#2a2a2a" stroke-width="0.75" stroke-linejoin="round"/><line x1="196.80" y1="132.70" x2="240.40" y2="132.70" stroke="#000" stroke-opacity="0.60" stroke-width="1.00"/><polygon points="282.20,102.30 282.26,102.55 282.31,102.80 282.37,103.05 282.42,103.31 282.48,103.56 282.53,103.81 282.59,104.06 282.65,104.31 282.72,104.56 282.78,104.81 282.85,105.06 282.91,105.32 282.99,105.57 283.07,105.82 283.15,106.07 283.25,106.32 283.35,106.57 283.47,106.82 283.61,107.07 283.75,107.33 283.91,107.58 284.10,107.83 284.31,108.08 284.55,108.33 284.81,108.58 285.10,108.83 285.42,109.08 285.75,109.34 286.12,109.59 286.54,109.84 286.99,110.09 287.47,110.34 287.98,110.59 288.49,110.84 289.03,111.09 289.60,111.35 290.21,111.60 290.83,111.85 291.48,112.10 292.14,112.35 292.81,112.60 293.52,112.85 294.24,113.11 294.99,113.36 295.76,113.61 296.57,113.86 297.41,114.11 298.31,114.36 299.24,114.61 300.19,114.86 301.14,115.12 302.08,115.37 303.01,115.62 303.95,115.87 304.90,116.12 305.83,116.37 306.74,116.62 307.59,116.87 308.40,117.13 309.22,117.38 310.04,117.63 310.80,117.88 311.47,118.13 312.01,118.38 312.40,118.63 312.76,118.88 313.09,119.14 313.37,119.39 313.58,119.64 313.69,119.89 313.70,120.14 313.70,120.39 313.70,120.64 313.70,120.89 313.68,121.15 313.57,121.40 313.37,121.65 313.12,121.90 312.83,122.15 312.53,122.40 312.25,122.65 311.98,122.91 311.70,123.16 311.41,123.41 311.10,123.66 310.76,123.91 310.41,124.16 310.02,124.41 309.59,124.66 309.11,124.92 308.60,125.17 308.07,125.42 307.53,125.67 306.99,125.92 306.46,126.17 305.95,126.42 305.45,126.67 304.95,126.93 304.45,127.18 303.94,127.43 303.44,127.68 302.94,127.93 302.44,128.18 301.93,128.43 301.43,128.68 300.94,128.94 300.44,129.19 299.95,129.44 299.45,129.69 298.95,129.94 298.45,130.19 297.94,130.44 297.41,130.69 296.87,130.95 296.32,131.20 295.75,131.45 295.18,131.70 294.61,131.95 294.04,132.20 293.47,132.45 292.91,132.71 292.36,132.96 291.79,133.21 291.22,133.46 290.66,133.71 290.10,133.96 289.55,134.21 289.03,134.46 288.53,134.72 288.06,134.97 287.62,135.22 287.19,135.47 286.76,135.72 286.36,135.97 285.97,136.22 285.60,136.47 285.26,136.73 284.95,136.98 284.67,137.23 284.41,137.48 284.16,137.73 283.92,137.98 283.70,138.23 283.49,138.48 283.30,138.74 283.13,138.99 282.98,139.24 282.86,139.49 282.75,139.74 282.66,139.99 282.58,140.24 282.50,140.49 282.43,140.75 282.35,141.00 282.28,141.25 282.20,141.50 282.12,141.25 282.05,141.00 281.97,140.75 281.90,140.49 281.82,140.24 281.74,139.99 281.65,139.74 281.54,139.49 281.42,139.24 281.27,138.99 281.10,138.74 280.91,138.48 280.70,138.23 280.48,137.98 280.24,137.73 279.99,137.48 279.73,137.23 279.45,136.98 279.14,136.73 278.80,136.47 278.43,136.22 278.04,135.97 277.64,135.72 277.21,135.47 276.78,135.22 276.34,134.97 275.87,134.72 275.37,134.46 274.85,134.21 274.30,133.96 273.74,133.71 273.18,133.46 272.61,133.21 272.04,132.96 271.49,132.71 270.93,132.45 270.36,132.20 269.79,131.95 269.22,131.70 268.65,131.45 268.08,131.20 267.53,130.95 266.99,130.69 266.46,130.44 265.95,130.19 265.45,129.94 264.95,129.69 264.45,129.44 263.96,129.19 263.46,128.94 262.97,128.68 262.47,128.43 261.96,128.18 261.46,127.93 260.96,127.68 260.46,127.43 259.95,127.18 259.45,126.93 258.95,126.67 258.45,126.42 257.94,126.17 257.41,125.92 256.87,125.67 256.33,125.42 255.80,125.17 255.29,124.92 254.81,124.66 254.38,124.41 253.99,124.16 253.64,123.91 253.30,123.66 252.99,123.41 252.70,123.16 252.42,122.91 252.15,122.65 251.87,122.40 251.57,122.15 251.28,121.90 251.03,121.65 250.83,121.40 250.72,121.15 250.70,120.89 250.70,120.64 250.70,120.39 250.70,120.14 250.71,119.89 250.82,119.64 251.03,119.39 251.31,119.14 251.64,118.88 252.00,118.63 252.39,118.38 252.93,118.13 253.60,117.88 254.36,117.63 255.18,117.38 256.00,117.13 256.81,116.87 257.66,116.62 258.57,116.37 259.50,116.12 260.45,115.87 261.39,115.62 262.32,115.37 263.26,115.12 264.21,114.86 265.16,114.61 266.09,114.36 266.99,114.11 267.83,113.86 268.64,113.61 269.41,113.36 270.16,113.11 270.88,112.85 271.59,112.60 272.26,112.35 272.92,112.10 273.57,111.85 274.19,111.60 274.80,111.35 275.37,111.09 275.91,110.84 276.42,110.59 276.93,110.34 277.41,110.09 277.86,109.84 278.28,109.59 278.65,109.34 278.98,109.08 279.30,108.83 279.59,108.58 279.85,108.33 280.09,108.08 280.30,107.83 280.49,107.58 280.65,107.33 280.79,107.07 280.93,106.82 281.05,106.57 281.15,106.32 281.25,106.07 281.33,105.82 281.41,105.57 281.49,105.32 281.55,105.06 281.62,104.81 281.68,104.56 281.75,104.31 281.81,104.06 281.87,103.81 281.92,103.56 281.98,103.31 282.03,103.05 282.09,102.80 282.14,102.55" fill="#3C5488" stroke="#2a2a2a" stroke-width="0.75" stroke-linejoin="round"/><line x1="252.20" y1="122.70" x2="312.20" y2="122.70" stroke="#000" stroke-opacity="0.60" stroke-width="1.00"/><polygon points="77.90,211.90 77.92,212.15 77.95,212.40 77.97,212.65 78.00,212.90 78.02,213.15 78.05,213.40 78.07,213.65 78.10,213.90 78.12,214.15 78.15,214.40 78.17,214.65 78.20,214.90 78.22,215.15 78.24,215.40 78.27,215.66 78.29,215.91 78.31,216.16 78.33,216.41 78.35,216.66 78.37,216.91 78.39,217.16 78.41,217.41 78.42,217.66 78.44,217.91 78.46,218.16 78.48,218.41 78.51,218.66 78.53,218.91 78.56,219.16 78.59,219.41 78.62,219.66 78.67,219.91 78.72,220.16 78.78,220.41 78.84,220.66 78.91,220.91 78.99,221.16 79.07,221.41 79.16,221.66 79.25,221.91 79.35,222.16 79.45,222.41 79.56,222.66 79.69,222.91 79.84,223.17 79.99,223.42 80.15,223.67 80.32,223.92 80.48,224.17 80.64,224.42 80.80,224.67 80.96,224.92 81.13,225.17 81.31,225.42 81.51,225.67 81.73,225.92 81.97,226.17 82.25,226.42 82.56,226.67 82.89,226.92 83.24,227.17 83.60,227.42 83.97,227.67 84.33,227.92 84.70,228.17 85.07,228.42 85.46,228.67 85.85,228.92 86.26,229.17 86.67,229.42 87.09,229.67 87.51,229.92 87.96,230.17 88.41,230.43 88.88,230.68 89.35,230.93 89.82,231.18 90.29,231.43 90.76,231.68 91.22,231.93 91.69,232.18 92.16,232.43 92.63,232.68 93.09,232.93 93.54,233.18 93.98,233.43 94.40,233.68 94.82,233.93 95.22,234.18 95.62,234.43 96.01,234.68 96.40,234.93 96.78,235.18 97.15,235.43 97.52,235.68 97.89,235.93 98.25,236.18 98.61,236.43 98.95,236.68 99.28,236.93 99.58,237.18 99.87,237.43 100.14,237.69 100.41,237.94 100.66,238.19 100.91,238.44 101.13,238.69 101.35,238.94 101.55,239.19 101.75,239.44 101.94,239.69 102.13,239.94 102.30,240.19 102.46,240.44 102.60,240.69 102.72,240.94 102.83,241.19 102.95,241.44 103.06,241.69 103.17,241.94 103.27,242.19 103.36,242.44 103.42,242.69 103.47,242.94 103.50,243.19 103.50,243.44 103.50,243.69 103.49,243.94 103.49,244.19 103.48,244.44 103.47,244.69 103.47,244.94 103.45,245.20 103.44,245.45 103.43,245.70 103.42,245.95 103.40,246.20 103.37,246.45 103.33,246.70 103.27,246.95 103.19,247.20 103.09,247.45 102.99,247.70 102.87,247.95 102.74,248.20 102.60,248.45 102.46,248.70 102.31,248.95 102.16,249.20 102.00,249.45 101.81,249.70 101.58,249.95 101.33,250.20 101.05,250.45 100.75,250.70 100.44,250.95 100.12,251.20 99.79,251.45 99.46,251.70 99.14,251.95 98.82,252.20 98.51,252.46 98.19,252.71 97.87,252.96 97.54,253.21 97.20,253.46 96.87,253.71 96.52,253.96 96.18,254.21 95.83,254.46 95.48,254.71 95.12,254.96 94.77,255.21 94.42,255.46 94.06,255.71 93.70,255.96 93.33,256.21 92.96,256.46 92.59,256.71 92.22,256.96 91.84,257.21 91.46,257.46 91.09,257.71 90.71,257.96 90.33,258.21 89.96,258.46 89.57,258.71 89.17,258.96 88.77,259.21 88.35,259.46 87.93,259.71 87.52,259.97 87.11,260.22 86.71,260.47 86.33,260.72 85.98,260.97 85.65,261.22 85.34,261.47 85.08,261.72 84.82,261.97 84.57,262.22 84.33,262.47 84.10,262.72 83.88,262.97 83.68,263.22 83.48,263.47 83.29,263.72 83.12,263.97 82.96,264.22 82.82,264.47 82.69,264.72 82.57,264.97 82.46,265.22 82.36,265.47 82.27,265.72 82.18,265.97 82.10,266.22 82.02,266.47 81.94,266.72 81.86,266.97 81.79,267.23 81.71,267.48 81.62,267.73 81.54,267.98 81.46,268.23 81.38,268.48 81.29,268.73 81.21,268.98 81.13,269.23 81.05,269.48 80.97,269.73 80.89,269.98 80.81,270.23 80.73,270.48 80.65,270.73 80.57,270.98 80.49,271.23 80.41,271.48 80.33,271.73 80.24,271.98 80.16,272.23 80.08,272.48 80.00,272.73 79.91,272.98 79.83,273.23 79.76,273.48 79.68,273.73 79.60,273.98 79.53,274.23 79.45,274.49 79.38,274.74 79.30,274.99 79.22,275.24 79.15,275.49 79.08,275.74 79.01,275.99 78.95,276.24 78.89,276.49 78.84,276.74 78.80,276.99 78.77,277.24 78.73,277.49 78.70,277.74 78.67,277.99 78.65,278.24 78.62,278.49 78.60,278.74 78.58,278.99 78.56,279.24 78.54,279.49 78.52,279.74 78.49,279.99 78.47,280.24 78.45,280.49 78.43,280.74 78.40,280.99 78.37,281.24 78.35,281.49 78.32,281.74 78.29,282.00 78.27,282.25 78.24,282.50 78.21,282.75 78.18,283.00 78.15,283.25 78.13,283.50 78.10,283.75 78.07,284.00 78.04,284.25 78.01,284.50 77.98,284.75 77.96,285.00 77.93,285.25 77.90,285.50 77.87,285.25 77.84,285.00 77.82,284.75 77.79,284.50 77.76,284.25 77.73,284.00 77.70,283.75 77.67,283.50 77.65,283.25 77.62,283.00 77.59,282.75 77.56,282.50 77.53,282.25 77.51,282.00 77.48,281.74 77.45,281.49 77.43,281.24 77.40,280.99 77.37,280.74 77.35,280.49 77.33,280.24 77.31,279.99 77.28,279.74 77.26,279.49 77.24,279.24 77.22,278.99 77.20,278.74 77.18,278.49 77.15,278.24 77.13,277.99 77.10,277.74 77.07,277.49 77.03,277.24 77.00,276.99 76.96,276.74 76.91,276.49 76.85,276.24 76.79,275.99 76.72,275.74 76.65,275.49 76.58,275.24 76.50,274.99 76.42,274.74 76.35,274.49 76.27,274.23 76.20,273.98 76.12,273.73 76.04,273.48 75.97,273.23 75.89,272.98 75.80,272.73 75.72,272.48 75.64,272.23 75.56,271.98 75.47,271.73 75.39,271.48 75.31,271.23 75.23,270.98 75.15,270.73 75.07,270.48 74.99,270.23 74.91,269.98 74.83,269.73 74.75,269.48 74.67,269.23 74.59,268.98 74.51,268.73 74.42,268.48 74.34,268.23 74.26,267.98 74.18,267.73 74.09,267.48 74.01,267.23 73.94,266.97 73.86,266.72 73.78,266.47 73.70,266.22 73.62,265.97 73.53,265.72 73.44,265.47 73.34,265.22 73.23,264.97 73.11,264.72 72.98,264.47 72.84,264.22 72.68,263.97 72.51,263.72 72.32,263.47 72.12,263.22 71.92,262.97 71.70,262.72 71.47,262.47 71.23,262.22 70.98,261.97 70.72,261.72 70.46,261.47 70.15,261.22 69.82,260.97 69.47,260.72 69.09,260.47 68.69,260.22 68.28,259.97 67.87,259.71 67.45,259.46 67.03,259.21 66.63,258.96 66.23,258.71 65.84,258.46 65.47,258.21 65.09,257.96 64.71,257.71 64.34,257.46 63.96,257.21 63.58,256.96 63.21,256.71 62.84,256.46 62.47,256.21 62.10,255.96 61.74,255.71 61.38,255.46 61.03,255.21 60.68,254.96 60.32,254.71 59.97,254.46 59.62,254.21 59.28,253.96 58.93,253.71 58.60,253.46 58.26,253.21 57.93,252.96 57.61,252.71 57.29,252.46 56.98,252.20 56.66,251.95 56.34,251.70 56.01,251.45 55.68,251.20 55.36,250.95 55.05,250.70 54.75,250.45 54.47,250.20 54.22,249.95 53.99,249.70 53.80,249.45 53.64,249.20 53.49,248.95 53.34,248.70 53.20,248.45 53.06,248.20 52.93,247.95 52.81,247.70 52.71,247.45 52.61,247.20 52.53,246.95 52.47,246.70 52.43,246.45 52.40,246.20 52.38,245.95 52.37,245.70 52.36,245.45 52.35,245.20 52.33,244.94 52.33,244.69 52.32,244.44 52.31,244.19 52.31,243.94 52.30,243.69 52.30,243.44 52.30,243.19 52.33,242.94 52.38,242.69 52.44,242.44 52.53,242.19 52.63,241.94 52.74,241.69 52.85,241.44 52.97,241.19 53.08,240.94 53.20,240.69 53.34,240.44 53.50,240.19 53.67,239.94 53.86,239.69 54.05,239.44 54.25,239.19 54.45,238.94 54.67,238.69 54.89,238.44 55.14,238.19 55.39,237.94 55.66,237.69 55.93,237.43 56.22,237.18 56.52,236.93 56.85,236.68 57.19,236.43 57.55,236.18 57.91,235.93 58.28,235.68 58.65,235.43 59.02,235.18 59.40,234.93 59.79,234.68 60.18,234.43 60.58,234.18 60.98,233.93 61.40,233.68 61.82,233.43 62.26,233.18 62.71,232.93 63.17,232.68 63.64,232.43 64.11,232.18 64.58,231.93 65.04,231.68 65.51,231.43 65.98,231.18 66.45,230.93 66.92,230.68 67.39,230.43 67.84,230.17 68.29,229.92 68.71,229.67 69.13,229.42 69.54,229.17 69.95,228.92 70.34,228.67 70.73,228.42 71.10,228.17 71.47,227.92 71.83,227.67 72.20,227.42 72.56,227.17 72.91,226.92 73.24,226.67 73.55,226.42 73.83,226.17 74.07,225.92 74.29,225.67 74.49,225.42 74.67,225.17 74.84,224.92 75.00,224.67 75.16,224.42 75.32,224.17 75.48,223.92 75.65,223.67 75.81,223.42 75.96,223.17 76.11,222.91 76.24,222.66 76.35,222.41 76.45,222.16 76.55,221.91 76.64,221.66 76.73,221.41 76.81,221.16 76.89,220.91 76.96,220.66 77.02,220.41 77.08,220.16 77.13,219.91 77.18,219.66 77.21,219.41 77.24,219.16 77.27,218.91 77.29,218.66 77.32,218.41 77.34,218.16 77.36,217.91 77.38,217.66 77.39,217.41 77.41,217.16 77.43,216.91 77.45,216.66 77.47,216.41 77.49,216.16 77.51,215.91 77.53,215.66 77.56,215.40 77.58,215.15 77.60,214.90 77.63,214.65 77.65,214.40 77.68,214.15 77.70,213.90 77.73,213.65 77.75,213.40 77.78,213.15 77.80,212.90 77.83,212.65 77.85,212.40 77.88,212.15" fill="#E64B35" stroke="#2a2a2a" stroke-width="0.75" stroke-linejoin="round"/><line x1="52.40" y1="246.20" x2="103.40" y2="246.20" stroke="#000" stroke-opacity="0.60" stroke-width="1.00"/><polygon points="139.90,207.70 139.92,207.95 139.94,208.20 139.96,208.45 139.98,208.70 140.00,208.95 140.03,209.20 140.05,209.46 140.07,209.71 140.09,209.96 140.11,210.21 140.13,210.46 140.16,210.71 140.18,210.96 140.20,211.21 140.21,211.46 140.23,211.71 140.25,211.96 140.26,212.21 140.28,212.46 140.29,212.71 140.30,212.97 140.31,213.22 140.31,213.47 140.32,213.72 140.33,213.97 140.33,214.22 140.33,214.47 140.34,214.72 140.34,214.97 140.35,215.22 140.35,215.47 140.35,215.72 140.36,215.97 140.37,216.22 140.38,216.48 140.39,216.73 140.40,216.98 140.42,217.23 140.47,217.48 140.54,217.73 140.63,217.98 140.73,218.23 140.84,218.48 140.97,218.73 141.17,218.98 141.43,219.23 141.74,219.48 142.09,219.74 142.46,219.99 142.83,220.24 143.21,220.49 143.56,220.74 143.89,220.99 144.19,221.24 144.48,221.49 144.77,221.74 145.06,221.99 145.34,222.24 145.62,222.49 145.91,222.74 146.19,222.99 146.47,223.25 146.75,223.50 147.04,223.75 147.33,224.00 147.63,224.25 147.93,224.50 148.24,224.75 148.55,225.00 148.86,225.25 149.18,225.50 149.50,225.75 149.82,226.00 150.14,226.25 150.47,226.51 150.80,226.76 151.14,227.01 151.48,227.26 151.83,227.51 152.19,227.76 152.56,228.01 152.93,228.26 153.32,228.51 153.71,228.76 154.12,229.01 154.53,229.26 154.96,229.51 155.39,229.76 155.84,230.02 156.29,230.27 156.75,230.52 157.23,230.77 157.71,231.02 158.20,231.27 158.70,231.52 159.21,231.77 159.73,232.02 160.25,232.27 160.82,232.52 161.43,232.77 162.05,233.02 162.68,233.27 163.30,233.53 163.90,233.78 164.46,234.03 165.00,234.28 165.54,234.53 166.06,234.78 166.57,235.03 167.06,235.28 167.51,235.53 167.92,235.78 168.30,236.03 168.69,236.28 169.08,236.53 169.44,236.79 169.76,237.04 170.01,237.29 170.16,237.54 170.21,237.79 170.22,238.04 170.24,238.29 170.25,238.54 170.27,238.79 170.28,239.04 170.28,239.29 170.29,239.54 170.30,239.79 170.30,240.04 170.30,240.30 170.29,240.55 170.24,240.80 170.14,241.05 170.01,241.30 169.86,241.55 169.68,241.80 169.49,242.05 169.30,242.30 169.11,242.55 168.92,242.80 168.73,243.05 168.53,243.30 168.31,243.56 168.08,243.81 167.84,244.06 167.59,244.31 167.32,244.56 167.04,244.81 166.75,245.06 166.44,245.31 166.12,245.56 165.78,245.81 165.42,246.06 165.02,246.31 164.58,246.56 164.11,246.81 163.62,247.07 163.10,247.32 162.57,247.57 162.02,247.82 161.46,248.07 160.90,248.32 160.34,248.57 159.78,248.82 159.21,249.07 158.61,249.32 157.99,249.57 157.34,249.82 156.68,250.07 156.02,250.32 155.35,250.58 154.69,250.83 154.05,251.08 153.42,251.33 152.82,251.58 152.26,251.83 151.74,252.08 151.22,252.33 150.71,252.58 150.21,252.83 149.71,253.08 149.23,253.33 148.77,253.58 148.32,253.84 147.90,254.09 147.51,254.34 147.14,254.59 146.81,254.84 146.51,255.09 146.24,255.34 145.99,255.59 145.75,255.84 145.52,256.09 145.31,256.34 145.10,256.59 144.91,256.84 144.73,257.09 144.56,257.35 144.40,257.60 144.24,257.85 144.10,258.10 143.97,258.35 143.84,258.60 143.71,258.85 143.60,259.10 143.49,259.35 143.38,259.60 143.28,259.85 143.18,260.10 143.09,260.35 143.00,260.61 142.91,260.86 142.83,261.11 142.75,261.36 142.68,261.61 142.60,261.86 142.54,262.11 142.47,262.36 142.41,262.61 142.35,262.86 142.29,263.11 142.23,263.36 142.17,263.61 142.11,263.86 142.05,264.12 141.98,264.37 141.92,264.62 141.85,264.87 141.78,265.12 141.71,265.37 141.64,265.62 141.57,265.87 141.50,266.12 141.44,266.37 141.37,266.62 141.31,266.87 141.26,267.12 141.20,267.38 141.16,267.63 141.11,267.88 141.07,268.13 141.02,268.38 140.98,268.63 140.94,268.88 140.91,269.13 140.87,269.38 140.83,269.63 140.79,269.88 140.76,270.13 140.72,270.38 140.68,270.63 140.64,270.89 140.60,271.14 140.56,271.39 140.53,271.64 140.49,271.89 140.45,272.14 140.41,272.39 140.38,272.64 140.34,272.89 140.30,273.14 140.27,273.39 140.23,273.64 140.19,273.89 140.16,274.14 140.12,274.40 140.08,274.65 140.05,274.90 140.01,275.15 139.97,275.40 139.94,275.65 139.90,275.90 139.86,275.65 139.83,275.40 139.79,275.15 139.75,274.90 139.72,274.65 139.68,274.40 139.64,274.14 139.61,273.89 139.57,273.64 139.53,273.39 139.50,273.14 139.46,272.89 139.42,272.64 139.39,272.39 139.35,272.14 139.31,271.89 139.27,271.64 139.24,271.39 139.20,271.14 139.16,270.89 139.12,270.63 139.08,270.38 139.04,270.13 139.01,269.88 138.97,269.63 138.93,269.38 138.89,269.13 138.86,268.88 138.82,268.63 138.78,268.38 138.73,268.13 138.69,267.88 138.64,267.63 138.60,267.38 138.54,267.12 138.49,266.87 138.43,266.62 138.36,266.37 138.30,266.12 138.23,265.87 138.16,265.62 138.09,265.37 138.02,265.12 137.95,264.87 137.88,264.62 137.82,264.37 137.75,264.12 137.69,263.86 137.63,263.61 137.57,263.36 137.51,263.11 137.45,262.86 137.39,262.61 137.33,262.36 137.26,262.11 137.20,261.86 137.12,261.61 137.05,261.36 136.97,261.11 136.89,260.86 136.80,260.61 136.71,260.35 136.62,260.10 136.52,259.85 136.42,259.60 136.31,259.35 136.20,259.10 136.09,258.85 135.96,258.60 135.83,258.35 135.70,258.10 135.56,257.85 135.40,257.60 135.24,257.35 135.07,257.09 134.89,256.84 134.70,256.59 134.49,256.34 134.28,256.09 134.05,255.84 133.81,255.59 133.56,255.34 133.29,255.09 132.99,254.84 132.66,254.59 132.29,254.34 131.90,254.09 131.48,253.84 131.03,253.58 130.57,253.33 130.09,253.08 129.59,252.83 129.09,252.58 128.58,252.33 128.06,252.08 127.54,251.83 126.98,251.58 126.38,251.33 125.75,251.08 125.11,250.83 124.45,250.58 123.78,250.32 123.12,250.07 122.46,249.82 121.81,249.57 121.19,249.32 120.59,249.07 120.02,248.82 119.46,248.57 118.90,248.32 118.34,248.07 117.78,247.82 117.23,247.57 116.70,247.32 116.18,247.07 115.69,246.81 115.22,246.56 114.78,246.31 114.38,246.06 114.02,245.81 113.68,245.56 113.36,245.31 113.05,245.06 112.76,244.81 112.48,244.56 112.21,244.31 111.96,244.06 111.72,243.81 111.49,243.56 111.27,243.30 111.07,243.05 110.88,242.80 110.69,242.55 110.50,242.30 110.31,242.05 110.12,241.80 109.94,241.55 109.79,241.30 109.66,241.05 109.56,240.80 109.51,240.55 109.50,240.30 109.50,240.04 109.50,239.79 109.51,239.54 109.52,239.29 109.52,239.04 109.53,238.79 109.55,238.54 109.56,238.29 109.58,238.04 109.59,237.79 109.64,237.54 109.79,237.29 110.04,237.04 110.36,236.79 110.72,236.53 111.11,236.28 111.50,236.03 111.88,235.78 112.29,235.53 112.74,235.28 113.23,235.03 113.74,234.78 114.26,234.53 114.80,234.28 115.34,234.03 115.90,233.78 116.50,233.53 117.12,233.27 117.75,233.02 118.37,232.77 118.98,232.52 119.55,232.27 120.07,232.02 120.59,231.77 121.10,231.52 121.60,231.27 122.09,231.02 122.57,230.77 123.05,230.52 123.51,230.27 123.96,230.02 124.41,229.76 124.84,229.51 125.27,229.26 125.68,229.01 126.09,228.76 126.48,228.51 126.87,228.26 127.24,228.01 127.61,227.76 127.97,227.51 128.32,227.26 128.66,227.01 129.00,226.76 129.33,226.51 129.66,226.25 129.98,226.00 130.30,225.75 130.62,225.50 130.94,225.25 131.25,225.00 131.56,224.75 131.87,224.50 132.17,224.25 132.47,224.00 132.76,223.75 133.05,223.50 133.33,223.25 133.61,222.99 133.89,222.74 134.18,222.49 134.46,222.24 134.74,221.99 135.03,221.74 135.32,221.49 135.61,221.24 135.91,220.99 136.24,220.74 136.59,220.49 136.97,220.24 137.34,219.99 137.71,219.74 138.06,219.48 138.37,219.23 138.63,218.98 138.83,218.73 138.96,218.48 139.07,218.23 139.17,217.98 139.26,217.73 139.33,217.48 139.38,217.23 139.40,216.98 139.41,216.73 139.42,216.48 139.43,216.22 139.44,215.97 139.45,215.72 139.45,215.47 139.45,215.22 139.46,214.97 139.46,214.72 139.47,214.47 139.47,214.22 139.47,213.97 139.48,213.72 139.49,213.47 139.49,213.22 139.50,212.97 139.51,212.71 139.52,212.46 139.54,212.21 139.55,211.96 139.57,211.71 139.59,211.46 139.60,211.21 139.62,210.96 139.64,210.71 139.67,210.46 139.69,210.21 139.71,209.96 139.73,209.71 139.75,209.46 139.77,209.20 139.80,208.95 139.82,208.70 139.84,208.45 139.86,208.20 139.88,207.95" fill="#3C5488" stroke="#2a2a2a" stroke-width="0.75" stroke-linejoin="round"/><line x1="109.54" y1="240.70" x2="170.26" y2="240.70" stroke="#000" stroke-opacity="0.60" stroke-width="1.00"/><polygon points="218.40,218.00 218.42,218.25 218.43,218.50 218.45,218.75 218.47,219.00 218.49,219.25 218.51,219.50 218.53,219.75 218.55,220.00 218.57,220.25 218.59,220.50 218.61,220.75 218.63,221.00 218.64,221.25 218.66,221.50 218.68,221.75 218.70,222.00 218.71,222.25 218.73,222.50 218.74,222.75 218.76,223.00 218.77,223.25 218.78,223.50 218.79,223.75 218.80,224.00 218.81,224.25 218.81,224.50 218.82,224.75 218.82,225.00 218.83,225.25 218.83,225.50 218.83,225.75 218.84,226.00 218.84,226.25 218.84,226.50 218.85,226.75 218.85,227.00 218.86,227.25 218.86,227.50 218.87,227.75 218.88,228.00 218.89,228.25 218.90,228.50 218.94,228.75 219.01,229.00 219.13,229.25 219.26,229.50 219.42,229.75 219.58,230.00 219.74,230.25 219.90,230.50 220.05,230.75 220.21,231.00 220.38,231.25 220.57,231.50 220.77,231.75 220.99,232.00 221.24,232.25 221.52,232.50 221.83,232.75 222.15,233.00 222.47,233.25 222.81,233.50 223.13,233.75 223.46,234.00 223.80,234.25 224.14,234.50 224.48,234.75 224.84,235.00 225.19,235.25 225.56,235.50 225.93,235.75 226.30,236.00 226.69,236.25 227.08,236.50 227.48,236.75 227.89,237.00 228.29,237.25 228.69,237.50 229.08,237.75 229.47,238.00 229.86,238.25 230.26,238.50 230.65,238.75 231.03,239.00 231.40,239.25 231.76,239.50 232.11,239.75 232.44,240.00 232.77,240.25 233.09,240.50 233.41,240.75 233.71,241.00 234.01,241.25 234.30,241.50 234.58,241.75 234.85,242.00 235.10,242.25 235.36,242.50 235.61,242.75 235.86,243.00 236.13,243.25 236.40,243.50 236.69,243.75 236.98,244.00 237.28,244.25 237.59,244.50 237.89,244.75 238.20,245.00 238.50,245.25 238.80,245.50 239.10,245.75 239.40,246.00 239.71,246.25 240.01,246.50 240.30,246.75 240.58,247.00 240.85,247.25 241.10,247.50 241.33,247.75 241.56,248.00 241.77,248.25 241.98,248.50 242.18,248.75 242.38,249.00 242.56,249.25 242.75,249.50 242.94,249.75 243.14,250.00 243.32,250.25 243.50,250.50 243.65,250.75 243.78,251.00 243.88,251.25 243.96,251.50 244.03,251.75 244.10,252.00 244.16,252.25 244.22,252.50 244.27,252.75 244.31,253.00 244.35,253.25 244.38,253.50 244.39,253.75 244.40,254.00 244.39,254.25 244.37,254.50 244.33,254.75 244.27,255.00 244.21,255.25 244.13,255.50 244.05,255.75 243.96,256.00 243.86,256.25 243.76,256.50 243.66,256.75 243.56,257.00 243.44,257.25 243.31,257.50 243.16,257.75 242.99,258.00 242.81,258.25 242.61,258.50 242.40,258.75 242.18,259.00 241.95,259.25 241.69,259.50 241.40,259.75 241.07,260.00 240.71,260.25 240.32,260.50 239.92,260.75 239.50,261.00 239.08,261.25 238.67,261.50 238.25,261.75 237.81,262.00 237.36,262.25 236.90,262.50 236.43,262.75 235.94,263.00 235.46,263.25 234.97,263.50 234.49,263.75 234.01,264.00 233.51,264.25 233.00,264.50 232.49,264.75 231.97,265.00 231.46,265.25 230.96,265.50 230.49,265.75 230.04,266.00 229.62,266.25 229.21,266.50 228.82,266.75 228.43,267.00 228.05,267.25 227.69,267.50 227.36,267.75 227.04,268.00 226.76,268.25 226.50,268.50 226.27,268.75 226.05,269.00 225.84,269.25 225.64,269.50 225.45,269.75 225.27,270.00 225.10,270.25 224.94,270.50 224.78,270.75 224.63,271.00 224.49,271.25 224.35,271.50 224.22,271.75 224.10,272.00 223.98,272.25 223.87,272.50 223.76,272.75 223.66,273.00 223.55,273.25 223.46,273.50 223.36,273.75 223.27,274.00 223.17,274.25 223.08,274.50 222.98,274.75 222.89,275.00 222.80,275.25 222.71,275.50 222.62,275.75 222.53,276.00 222.44,276.25 222.36,276.50 222.27,276.75 222.19,277.00 222.10,277.25 222.01,277.50 221.92,277.75 221.82,278.00 221.73,278.25 221.63,278.50 221.53,278.75 221.43,279.00 221.33,279.25 221.22,279.50 221.12,279.75 221.03,280.00 220.93,280.25 220.84,280.50 220.75,280.75 220.67,281.00 220.59,281.25 220.51,281.50 220.43,281.75 220.36,282.00 220.29,282.25 220.21,282.50 220.14,282.75 220.08,283.00 220.01,283.25 219.94,283.50 219.87,283.75 219.80,284.00 219.73,284.25 219.65,284.50 219.57,284.75 219.49,285.00 219.41,285.25 219.33,285.50 219.25,285.75 219.18,286.00 219.12,286.25 219.07,286.50 219.03,286.75 219.00,287.00 218.98,287.25 218.96,287.50 218.95,287.75 218.93,288.00 218.92,288.25 218.91,288.50 218.90,288.75 218.89,289.00 218.88,289.25 218.87,289.50 218.86,289.75 218.85,290.00 218.84,290.25 218.83,290.50 218.81,290.75 218.80,291.00 218.78,291.25 218.77,291.50 218.75,291.75 218.73,292.00 218.71,292.25 218.68,292.50 218.66,292.75 218.64,293.00 218.61,293.25 218.59,293.50 218.57,293.75 218.54,294.00 218.52,294.25 218.49,294.50 218.47,294.75 218.45,295.00 218.42,295.25 218.40,295.50 218.38,295.25 218.35,295.00 218.33,294.75 218.31,294.50 218.28,294.25 218.26,294.00 218.23,293.75 218.21,293.50 218.19,293.25 218.16,293.00 218.14,292.75 218.12,292.50 218.09,292.25 218.07,292.00 218.05,291.75 218.03,291.50 218.02,291.25 218.00,291.00 217.99,290.75 217.97,290.50 217.96,290.25 217.95,290.00 217.94,289.75 217.93,289.50 217.92,289.25 217.91,289.00 217.90,288.75 217.89,288.50 217.88,288.25 217.87,288.00 217.85,287.75 217.84,287.50 217.82,287.25 217.80,287.00 217.77,286.75 217.73,286.50 217.68,286.25 217.62,286.00 217.55,285.75 217.47,285.50 217.39,285.25 217.31,285.00 217.23,284.75 217.15,284.50 217.07,284.25 217.00,284.00 216.93,283.75 216.86,283.50 216.79,283.25 216.72,283.00 216.66,282.75 216.59,282.50 216.51,282.25 216.44,282.00 216.37,281.75 216.29,281.50 216.21,281.25 216.13,281.00 216.05,280.75 215.96,280.50 215.87,280.25 215.77,280.00 215.68,279.75 215.58,279.50 215.47,279.25 215.37,279.00 215.27,278.75 215.17,278.50 215.07,278.25 214.98,278.00 214.88,277.75 214.79,277.50 214.70,277.25 214.61,277.00 214.53,276.75 214.44,276.50 214.36,276.25 214.27,276.00 214.18,275.75 214.09,275.50 214.00,275.25 213.91,275.00 213.82,274.75 213.72,274.50 213.63,274.25 213.53,274.00 213.44,273.75 213.34,273.50 213.25,273.25 213.14,273.00 213.04,272.75 212.93,272.50 212.82,272.25 212.70,272.00 212.58,271.75 212.45,271.50 212.31,271.25 212.17,271.00 212.02,270.75 211.86,270.50 211.70,270.25 211.53,270.00 211.35,269.75 211.16,269.50 210.96,269.25 210.75,269.00 210.53,268.75 210.30,268.50 210.04,268.25 209.76,268.00 209.44,267.75 209.11,267.50 208.75,267.25 208.37,267.00 207.98,266.75 207.59,266.50 207.18,266.25 206.76,266.00 206.31,265.75 205.84,265.50 205.34,265.25 204.83,265.00 204.31,264.75 203.80,264.50 203.29,264.25 202.79,264.00 202.31,263.75 201.83,263.50 201.34,263.25 200.86,263.00 200.37,262.75 199.90,262.50 199.44,262.25 198.99,262.00 198.55,261.75 198.13,261.50 197.72,261.25 197.30,261.00 196.88,260.75 196.48,260.50 196.09,260.25 195.73,260.00 195.40,259.75 195.11,259.50 194.85,259.25 194.62,259.00 194.40,258.75 194.19,258.50 193.99,258.25 193.81,258.00 193.64,257.75 193.49,257.50 193.36,257.25 193.24,257.00 193.14,256.75 193.04,256.50 192.94,256.25 192.84,256.00 192.75,255.75 192.67,255.50 192.59,255.25 192.53,255.00 192.47,254.75 192.43,254.50 192.41,254.25 192.40,254.00 192.41,253.75 192.42,253.50 192.45,253.25 192.49,253.00 192.53,252.75 192.58,252.50 192.64,252.25 192.70,252.00 192.77,251.75 192.84,251.50 192.92,251.25 193.02,251.00 193.15,250.75 193.30,250.50 193.48,250.25 193.66,250.00 193.86,249.75 194.05,249.50 194.24,249.25 194.42,249.00 194.62,248.75 194.82,248.50 195.03,248.25 195.24,248.00 195.47,247.75 195.70,247.50 195.95,247.25 196.22,247.00 196.50,246.75 196.79,246.50 197.09,246.25 197.40,246.00 197.70,245.75 198.00,245.50 198.30,245.25 198.60,245.00 198.91,244.75 199.21,244.50 199.52,244.25 199.82,244.00 200.11,243.75 200.40,243.50 200.67,243.25 200.94,243.00 201.19,242.75 201.44,242.50 201.70,242.25 201.95,242.00 202.22,241.75 202.50,241.50 202.79,241.25 203.09,241.00 203.39,240.75 203.71,240.50 204.03,240.25 204.36,240.00 204.69,239.75 205.04,239.50 205.40,239.25 205.77,239.00 206.15,238.75 206.54,238.50 206.94,238.25 207.33,238.00 207.72,237.75 208.11,237.50 208.51,237.25 208.91,237.00 209.32,236.75 209.72,236.50 210.11,236.25 210.50,236.00 210.87,235.75 211.24,235.50 211.61,235.25 211.96,235.00 212.32,234.75 212.66,234.50 213.00,234.25 213.34,234.00 213.67,233.75 213.99,233.50 214.33,233.25 214.65,233.00 214.97,232.75 215.28,232.50 215.56,232.25 215.81,232.00 216.03,231.75 216.23,231.50 216.42,231.25 216.59,231.00 216.75,230.75 216.90,230.50 217.06,230.25 217.22,230.00 217.38,229.75 217.54,229.50 217.67,229.25 217.79,229.00 217.86,228.75 217.90,228.50 217.91,228.25 217.92,228.00 217.93,227.75 217.94,227.50 217.94,227.25 217.95,227.00 217.95,226.75 217.96,226.50 217.96,226.25 217.96,226.00 217.97,225.75 217.97,225.50 217.97,225.25 217.98,225.00 217.98,224.75 217.99,224.50 217.99,224.25 218.00,224.00 218.01,223.75 218.02,223.50 218.03,223.25 218.04,223.00 218.06,222.75 218.07,222.50 218.09,222.25 218.10,222.00 218.12,221.75 218.14,221.50 218.16,221.25 218.17,221.00 218.19,220.75 218.21,220.50 218.23,220.25 218.25,220.00 218.27,219.75 218.29,219.50 218.31,219.25 218.33,219.00 218.35,218.75 218.37,218.50 218.38,218.25" fill="#E64B35" stroke="#2a2a2a" stroke-width="0.75" stroke-linejoin="round"/><line x1="192.40" y1="254.00" x2="244.40" y2="254.00" stroke="#000" stroke-opacity="0.60" stroke-width="1.00"/><polygon points="282.20,216.20 282.24,216.45 282.29,216.70 282.34,216.95 282.38,217.20 282.43,217.45 282.47,217.70 282.52,217.95 282.56,218.20 282.60,218.45 282.65,218.70 282.69,218.95 282.73,219.20 282.77,219.45 282.80,219.70 282.84,219.95 282.88,220.20 282.92,220.45 282.98,220.70 283.04,220.95 283.14,221.20 283.26,221.45 283.40,221.70 283.57,221.95 283.78,222.20 284.06,222.45 284.41,222.70 284.80,222.96 285.23,223.21 285.68,223.46 286.14,223.71 286.59,223.96 287.01,224.21 287.42,224.46 287.85,224.71 288.28,224.96 288.72,225.21 289.16,225.46 289.60,225.71 290.04,225.96 290.47,226.21 290.90,226.46 291.32,226.71 291.76,226.96 292.19,227.21 292.63,227.46 293.06,227.71 293.49,227.96 293.92,228.21 294.34,228.46 294.75,228.71 295.15,228.96 295.54,229.21 295.92,229.46 296.28,229.71 296.62,229.96 296.95,230.21 297.26,230.46 297.57,230.71 297.87,230.96 298.16,231.21 298.44,231.46 298.72,231.71 299.00,231.96 299.28,232.21 299.57,232.46 299.85,232.71 300.14,232.96 300.43,233.21 300.72,233.46 301.00,233.71 301.28,233.96 301.56,234.21 301.83,234.46 302.11,234.71 302.39,234.96 302.68,235.21 302.98,235.46 303.29,235.71 303.61,235.97 303.94,236.22 304.29,236.47 304.68,236.72 305.09,236.97 305.53,237.22 305.99,237.47 306.47,237.72 306.95,237.97 307.44,238.22 307.93,238.47 308.42,238.72 308.89,238.97 309.34,239.22 309.77,239.47 310.17,239.72 310.56,239.97 310.95,240.22 311.35,240.47 311.74,240.72 312.11,240.97 312.45,241.22 312.75,241.47 313.00,241.72 313.18,241.97 313.32,242.22 313.46,242.47 313.59,242.72 313.70,242.97 313.80,243.22 313.89,243.47 313.95,243.72 313.99,243.97 314.00,244.22 313.97,244.47 313.90,244.72 313.79,244.97 313.66,245.22 313.50,245.47 313.33,245.72 313.14,245.97 312.90,246.22 312.59,246.47 312.22,246.72 311.80,246.97 311.34,247.22 310.85,247.47 310.36,247.72 309.85,247.97 309.35,248.22 308.80,248.47 308.20,248.72 307.57,248.97 306.91,249.23 306.23,249.48 305.53,249.73 304.82,249.98 304.11,250.23 303.42,250.48 302.73,250.73 302.07,250.98 301.43,251.23 300.81,251.48 300.18,251.73 299.55,251.98 298.92,252.23 298.29,252.48 297.67,252.73 297.07,252.98 296.48,253.23 295.90,253.48 295.35,253.73 294.83,253.98 294.33,254.23 293.86,254.48 293.40,254.73 292.94,254.98 292.49,255.23 292.06,255.48 291.64,255.73 291.24,255.98 290.85,256.23 290.49,256.48 290.16,256.73 289.85,256.98 289.57,257.23 289.32,257.48 289.08,257.73 288.86,257.98 288.64,258.23 288.44,258.48 288.24,258.73 288.06,258.98 287.89,259.23 287.72,259.48 287.57,259.73 287.42,259.98 287.29,260.23 287.16,260.48 287.04,260.73 286.92,260.98 286.81,261.23 286.70,261.48 286.60,261.73 286.50,261.98 286.41,262.23 286.32,262.49 286.23,262.74 286.15,262.99 286.08,263.24 286.00,263.49 285.93,263.74 285.87,263.99 285.81,264.24 285.75,264.49 285.69,264.74 285.63,264.99 285.58,265.24 285.53,265.49 285.48,265.74 285.43,265.99 285.37,266.24 285.32,266.49 285.27,266.74 285.22,266.99 285.17,267.24 285.12,267.49 285.07,267.74 285.02,267.99 284.98,268.24 284.93,268.49 284.88,268.74 284.84,268.99 284.79,269.24 284.74,269.49 284.69,269.74 284.64,269.99 284.60,270.24 284.55,270.49 284.50,270.74 284.45,270.99 284.41,271.24 284.36,271.49 284.31,271.74 284.26,271.99 284.21,272.24 284.16,272.49 284.11,272.74 284.06,272.99 284.00,273.24 283.95,273.49 283.89,273.74 283.83,273.99 283.77,274.24 283.72,274.49 283.66,274.74 283.60,274.99 283.54,275.24 283.49,275.50 283.43,275.75 283.38,276.00 283.33,276.25 283.28,276.50 283.23,276.75 283.18,277.00 283.13,277.25 283.09,277.50 283.04,277.75 282.99,278.00 282.95,278.25 282.90,278.50 282.85,278.75 282.80,279.00 282.75,279.25 282.70,279.50 282.65,279.75 282.60,280.00 282.55,280.25 282.50,280.50 282.45,280.75 282.40,281.00 282.35,281.25 282.30,281.50 282.25,281.75 282.20,282.00 282.15,281.75 282.10,281.50 282.05,281.25 282.00,281.00 281.95,280.75 281.90,280.50 281.85,280.25 281.80,280.00 281.75,279.75 281.70,279.50 281.65,279.25 281.60,279.00 281.55,278.75 281.50,278.50 281.45,278.25 281.41,278.00 281.36,277.75 281.31,277.50 281.27,277.25 281.22,277.00 281.17,276.75 281.12,276.50 281.07,276.25 281.02,276.00 280.97,275.75 280.91,275.50 280.86,275.24 280.80,274.99 280.74,274.74 280.68,274.49 280.63,274.24 280.57,273.99 280.51,273.74 280.45,273.49 280.40,273.24 280.34,272.99 280.29,272.74 280.24,272.49 280.19,272.24 280.14,271.99 280.09,271.74 280.04,271.49 279.99,271.24 279.95,270.99 279.90,270.74 279.85,270.49 279.80,270.24 279.76,269.99 279.71,269.74 279.66,269.49 279.61,269.24 279.56,268.99 279.52,268.74 279.47,268.49 279.42,268.24 279.38,267.99 279.33,267.74 279.28,267.49 279.23,267.24 279.18,266.99 279.13,266.74 279.08,266.49 279.03,266.24 278.97,265.99 278.92,265.74 278.87,265.49 278.82,265.24 278.77,264.99 278.71,264.74 278.65,264.49 278.59,264.24 278.53,263.99 278.47,263.74 278.40,263.49 278.32,263.24 278.25,262.99 278.17,262.74 278.08,262.49 277.99,262.23 277.90,261.98 277.80,261.73 277.70,261.48 277.59,261.23 277.48,260.98 277.36,260.73 277.24,260.48 277.11,260.23 276.98,259.98 276.83,259.73 276.68,259.48 276.51,259.23 276.34,258.98 276.16,258.73 275.96,258.48 275.76,258.23 275.54,257.98 275.32,257.73 275.08,257.48 274.83,257.23 274.55,256.98 274.24,256.73 273.91,256.48 273.55,256.23 273.16,255.98 272.76,255.73 272.34,255.48 271.91,255.23 271.46,254.98 271.00,254.73 270.54,254.48 270.07,254.23 269.57,253.98 269.05,253.73 268.50,253.48 267.92,253.23 267.33,252.98 266.73,252.73 266.11,252.48 265.48,252.23 264.85,251.98 264.22,251.73 263.59,251.48 262.97,251.23 262.33,250.98 261.67,250.73 260.98,250.48 260.29,250.23 259.58,249.98 258.87,249.73 258.17,249.48 257.49,249.23 256.83,248.97 256.20,248.72 255.60,248.47 255.05,248.22 254.55,247.97 254.04,247.72 253.55,247.47 253.06,247.22 252.60,246.97 252.18,246.72 251.81,246.47 251.50,246.22 251.26,245.97 251.07,245.72 250.90,245.47 250.74,245.22 250.61,244.97 250.50,244.72 250.43,244.47 250.40,244.22 250.41,243.97 250.45,243.72 250.51,243.47 250.60,243.22 250.70,242.97 250.81,242.72 250.94,242.47 251.08,242.22 251.22,241.97 251.40,241.72 251.65,241.47 251.95,241.22 252.29,240.97 252.66,240.72 253.05,240.47 253.45,240.22 253.84,239.97 254.23,239.72 254.63,239.47 255.06,239.22 255.51,238.97 255.98,238.72 256.47,238.47 256.96,238.22 257.45,237.97 257.93,237.72 258.41,237.47 258.87,237.22 259.31,236.97 259.72,236.72 260.11,236.47 260.46,236.22 260.79,235.97 261.11,235.71 261.42,235.46 261.72,235.21 262.01,234.96 262.29,234.71 262.57,234.46 262.84,234.21 263.12,233.96 263.40,233.71 263.68,233.46 263.97,233.21 264.26,232.96 264.55,232.71 264.83,232.46 265.12,232.21 265.40,231.96 265.68,231.71 265.96,231.46 266.24,231.21 266.53,230.96 266.83,230.71 267.14,230.46 267.45,230.21 267.78,229.96 268.12,229.71 268.48,229.46 268.86,229.21 269.25,228.96 269.65,228.71 270.06,228.46 270.48,228.21 270.91,227.96 271.34,227.71 271.77,227.46 272.21,227.21 272.64,226.96 273.08,226.71 273.50,226.46 273.93,226.21 274.36,225.96 274.80,225.71 275.24,225.46 275.68,225.21 276.12,224.96 276.55,224.71 276.98,224.46 277.39,224.21 277.81,223.96 278.26,223.71 278.72,223.46 279.17,223.21 279.60,222.96 279.99,222.70 280.34,222.45 280.62,222.20 280.83,221.95 281.00,221.70 281.14,221.45 281.26,221.20 281.36,220.95 281.42,220.70 281.48,220.45 281.52,220.20 281.56,219.95 281.60,219.70 281.63,219.45 281.67,219.20 281.71,218.95 281.75,218.70 281.80,218.45 281.84,218.20 281.88,217.95 281.93,217.70 281.97,217.45 282.02,217.20 282.06,216.95 282.11,216.70 282.16,216.45" fill="#3C5488" stroke="#2a2a2a" stroke-width="0.75" stroke-linejoin="round"/><line x1="250.40" y1="244.10" x2="314.00" y2="244.10" stroke="#000" stroke-opacity="0.60" stroke-width="1.00"/><polygon points="453.80,76.80 453.83,77.05 453.87,77.30 453.91,77.55 453.94,77.80 453.98,78.05 454.01,78.30 454.05,78.56 454.08,78.81 454.11,79.06 454.13,79.31 454.16,79.56 454.18,79.81 454.20,80.06 454.21,80.31 454.23,80.56 454.25,80.81 454.28,81.06 454.30,81.31 454.33,81.57 454.37,81.82 454.41,82.07 454.48,82.32 454.56,82.57 454.67,82.82 454.80,83.07 454.94,83.32 455.09,83.57 455.25,83.82 455.42,84.07 455.59,84.32 455.77,84.57 455.98,84.83 456.20,85.08 456.45,85.33 456.71,85.58 456.99,85.83 457.29,86.08 457.61,86.33 457.95,86.58 458.35,86.83 458.79,87.08 459.26,87.33 459.77,87.58 460.30,87.84 460.84,88.09 461.40,88.34 461.95,88.59 462.51,88.84 463.11,89.09 463.74,89.34 464.39,89.59 465.05,89.84 465.71,90.09 466.35,90.34 466.98,90.59 467.57,90.84 468.14,91.10 468.69,91.35 469.24,91.60 469.78,91.85 470.30,92.10 470.80,92.35 471.29,92.60 471.76,92.85 472.20,93.10 472.64,93.35 473.07,93.60 473.49,93.85 473.90,94.11 474.29,94.36 474.66,94.61 475.00,94.86 475.30,95.11 475.56,95.36 475.81,95.61 476.05,95.86 476.29,96.11 476.51,96.36 476.71,96.61 476.89,96.86 477.03,97.11 477.14,97.37 477.20,97.62 477.25,97.87 477.29,98.12 477.32,98.37 477.35,98.62 477.37,98.87 477.39,99.12 477.40,99.37 477.39,99.62 477.29,99.87 477.14,100.12 476.96,100.38 476.81,100.63 476.71,100.88 476.71,101.13 476.75,101.38 476.82,101.63 476.90,101.88 476.98,102.13 477.06,102.38 477.10,102.63 477.14,102.88 477.17,103.13 477.21,103.38 477.24,103.64 477.26,103.89 477.28,104.14 477.29,104.39 477.30,104.64 477.30,104.89 477.29,105.14 477.29,105.39 477.27,105.64 477.26,105.89 477.24,106.14 477.22,106.39 477.19,106.65 477.16,106.90 477.13,107.15 477.10,107.40 477.03,107.65 476.91,107.90 476.74,108.15 476.52,108.40 476.28,108.65 476.00,108.90 475.71,109.15 475.40,109.40 475.10,109.65 474.79,109.91 474.47,110.16 474.12,110.41 473.73,110.66 473.32,110.91 472.88,111.16 472.44,111.41 471.98,111.66 471.51,111.91 471.05,112.16 470.59,112.41 470.11,112.66 469.62,112.92 469.11,113.17 468.59,113.42 468.07,113.67 467.54,113.92 467.03,114.17 466.53,114.42 466.04,114.67 465.57,114.92 465.11,115.17 464.64,115.42 464.18,115.67 463.72,115.92 463.27,116.18 462.84,116.43 462.43,116.68 462.04,116.93 461.67,117.18 461.32,117.43 460.99,117.68 460.66,117.93 460.35,118.18 460.04,118.43 459.75,118.68 459.48,118.93 459.22,119.19 458.99,119.44 458.79,119.69 458.60,119.94 458.43,120.19 458.27,120.44 458.12,120.69 457.98,120.94 457.85,121.19 457.73,121.44 457.62,121.69 457.51,121.94 457.40,122.19 457.30,122.45 457.21,122.70 457.13,122.95 457.05,123.20 456.97,123.45 456.89,123.70 456.82,123.95 456.75,124.20 456.67,124.45 456.60,124.70 456.52,124.95 456.45,125.20 456.38,125.46 456.30,125.71 456.23,125.96 456.16,126.21 456.09,126.46 456.02,126.71 455.96,126.96 455.90,127.21 455.84,127.46 455.78,127.71 455.73,127.96 455.67,128.21 455.62,128.46 455.57,128.72 455.52,128.97 455.47,129.22 455.42,129.47 455.38,129.72 455.34,129.97 455.30,130.22 455.26,130.47 455.22,130.72 455.18,130.97 455.14,131.22 455.10,131.47 455.06,131.73 455.02,131.98 454.98,132.23 454.93,132.48 454.88,132.73 454.82,132.98 454.77,133.23 454.71,133.48 454.66,133.73 454.61,133.98 454.56,134.23 454.52,134.48 454.48,134.73 454.44,134.99 454.41,135.24 454.38,135.49 454.35,135.74 454.32,135.99 454.30,136.24 454.27,136.49 454.23,136.74 454.20,136.99 454.17,137.24 454.13,137.49 454.09,137.74 454.05,138.00 454.01,138.25 453.97,138.50 453.92,138.75 453.88,139.00 453.84,139.25 453.80,139.50 453.76,139.25 453.72,139.00 453.68,138.75 453.63,138.50 453.59,138.25 453.55,138.00 453.51,137.74 453.47,137.49 453.43,137.24 453.40,136.99 453.37,136.74 453.33,136.49 453.30,136.24 453.28,135.99 453.25,135.74 453.22,135.49 453.19,135.24 453.16,134.99 453.12,134.73 453.08,134.48 453.04,134.23 452.99,133.98 452.94,133.73 452.89,133.48 452.83,133.23 452.78,132.98 452.72,132.73 452.67,132.48 452.62,132.23 452.58,131.98 452.54,131.73 452.50,131.47 452.46,131.22 452.42,130.97 452.38,130.72 452.34,130.47 452.30,130.22 452.26,129.97 452.22,129.72 452.18,129.47 452.13,129.22 452.08,128.97 452.03,128.72 451.98,128.46 451.93,128.21 451.87,127.96 451.82,127.71 451.76,127.46 451.70,127.21 451.64,126.96 451.58,126.71 451.51,126.46 451.44,126.21 451.37,125.96 451.30,125.71 451.22,125.46 451.15,125.20 451.08,124.95 451.00,124.70 450.93,124.45 450.85,124.20 450.78,123.95 450.71,123.70 450.63,123.45 450.55,123.20 450.47,122.95 450.39,122.70 450.30,122.45 450.20,122.19 450.09,121.94 449.98,121.69 449.87,121.44 449.75,121.19 449.62,120.94 449.48,120.69 449.33,120.44 449.17,120.19 449.00,119.94 448.81,119.69 448.61,119.44 448.38,119.19 448.12,118.93 447.85,118.68 447.56,118.43 447.25,118.18 446.94,117.93 446.61,117.68 446.28,117.43 445.93,117.18 445.56,116.93 445.17,116.68 444.76,116.43 444.33,116.18 443.88,115.92 443.42,115.67 442.96,115.42 442.49,115.17 442.03,114.92 441.56,114.67 441.07,114.42 440.57,114.17 440.06,113.92 439.53,113.67 439.01,113.42 438.49,113.17 437.98,112.92 437.49,112.66 437.01,112.41 436.55,112.16 436.09,111.91 435.62,111.66 435.16,111.41 434.72,111.16 434.28,110.91 433.87,110.66 433.48,110.41 433.13,110.16 432.81,109.91 432.50,109.65 432.20,109.40 431.89,109.15 431.60,108.90 431.32,108.65 431.08,108.40 430.86,108.15 430.69,107.90 430.57,107.65 430.50,107.40 430.47,107.15 430.44,106.90 430.41,106.65 430.38,106.39 430.36,106.14 430.34,105.89 430.33,105.64 430.31,105.39 430.31,105.14 430.30,104.89 430.30,104.64 430.31,104.39 430.32,104.14 430.34,103.89 430.36,103.64 430.39,103.38 430.43,103.13 430.46,102.88 430.50,102.63 430.54,102.38 430.62,102.13 430.70,101.88 430.78,101.63 430.85,101.38 430.89,101.13 430.89,100.88 430.79,100.63 430.64,100.38 430.46,100.12 430.31,99.87 430.21,99.62 430.20,99.37 430.21,99.12 430.23,98.87 430.25,98.62 430.28,98.37 430.31,98.12 430.35,97.87 430.40,97.62 430.46,97.37 430.57,97.11 430.71,96.86 430.89,96.61 431.09,96.36 431.31,96.11 431.55,95.86 431.79,95.61 432.04,95.36 432.30,95.11 432.60,94.86 432.94,94.61 433.31,94.36 433.70,94.11 434.11,93.85 434.53,93.60 434.96,93.35 435.40,93.10 435.84,92.85 436.31,92.60 436.80,92.35 437.30,92.10 437.82,91.85 438.36,91.60 438.91,91.35 439.46,91.10 440.03,90.84 440.62,90.59 441.25,90.34 441.89,90.09 442.55,89.84 443.21,89.59 443.86,89.34 444.49,89.09 445.09,88.84 445.65,88.59 446.20,88.34 446.76,88.09 447.30,87.84 447.83,87.58 448.34,87.33 448.81,87.08 449.25,86.83 449.65,86.58 449.99,86.33 450.31,86.08 450.61,85.83 450.89,85.58 451.15,85.33 451.40,85.08 451.62,84.83 451.83,84.57 452.01,84.32 452.18,84.07 452.35,83.82 452.51,83.57 452.66,83.32 452.80,83.07 452.93,82.82 453.04,82.57 453.12,82.32 453.19,82.07 453.23,81.82 453.27,81.57 453.30,81.31 453.32,81.06 453.35,80.81 453.37,80.56 453.39,80.31 453.40,80.06 453.42,79.81 453.44,79.56 453.47,79.31 453.49,79.06 453.52,78.81 453.55,78.56 453.59,78.30 453.62,78.05 453.66,77.80 453.69,77.55 453.73,77.30 453.77,77.05" fill="#E64B35" stroke="#7a2414" stroke-width="0.50" stroke-linejoin="round"/><line x1="430.30" y1="104.70" x2="477.30" y2="104.70" stroke="#000" stroke-opacity="0.40" stroke-width="1.00"/><polygon points="513.60,66.90 513.63,67.15 513.66,67.40 513.69,67.65 513.72,67.90 513.75,68.15 513.78,68.40 513.81,68.65 513.85,68.90 513.88,69.15 513.91,69.41 513.94,69.66 513.97,69.91 514.00,70.16 514.03,70.41 514.06,70.66 514.08,70.91 514.11,71.16 514.13,71.41 514.15,71.66 514.17,71.91 514.19,72.16 514.21,72.41 514.22,72.66 514.23,72.91 514.25,73.16 514.26,73.41 514.27,73.66 514.28,73.92 514.28,74.17 514.29,74.42 514.30,74.67 514.31,74.92 514.32,75.17 514.33,75.42 514.34,75.67 514.35,75.92 514.36,76.17 514.37,76.42 514.38,76.67 514.40,76.92 514.41,77.17 514.43,77.42 514.44,77.67 514.46,77.92 514.47,78.17 514.49,78.43 514.51,78.68 514.53,78.93 514.55,79.18 514.57,79.43 514.60,79.68 514.62,79.93 514.65,80.18 514.68,80.43 514.71,80.68 514.74,80.93 514.77,81.18 514.81,81.43 514.85,81.68 514.89,81.93 514.93,82.18 514.99,82.43 515.05,82.68 515.12,82.94 515.21,83.19 515.30,83.44 515.41,83.69 515.52,83.94 515.65,84.19 515.80,84.44 515.96,84.69 516.20,84.94 516.52,85.19 516.90,85.44 517.34,85.69 517.83,85.94 518.34,86.19 518.87,86.44 519.41,86.69 520.03,86.94 520.73,87.19 521.49,87.45 522.29,87.70 523.11,87.95 523.93,88.20 524.73,88.45 525.49,88.70 526.26,88.95 527.04,89.20 527.82,89.45 528.60,89.70 529.37,89.95 530.13,90.20 530.86,90.45 531.57,90.70 532.24,90.95 532.89,91.20 533.53,91.45 534.16,91.70 534.76,91.95 535.36,92.21 535.93,92.46 536.48,92.71 537.01,92.96 537.52,93.21 538.01,93.46 538.49,93.71 538.97,93.96 539.44,94.21 539.88,94.46 540.30,94.71 540.69,94.96 541.04,95.21 541.36,95.46 541.64,95.71 541.93,95.96 542.20,96.21 542.46,96.46 542.71,96.72 542.92,96.97 543.11,97.22 543.26,97.47 543.37,97.72 543.45,97.97 543.52,98.22 543.58,98.47 543.63,98.72 543.67,98.97 543.69,99.22 543.70,99.47 543.66,99.72 543.58,99.97 543.47,100.22 543.34,100.47 543.18,100.72 543.02,100.97 542.78,101.23 542.42,101.48 541.98,101.73 541.52,101.98 541.08,102.23 540.73,102.48 540.49,102.73 540.30,102.98 540.15,103.23 540.01,103.48 539.88,103.73 539.75,103.98 539.61,104.23 539.46,104.48 539.27,104.73 539.07,104.98 538.86,105.23 538.63,105.48 538.38,105.74 538.11,105.99 537.83,106.24 537.52,106.49 537.19,106.74 536.82,106.99 536.38,107.24 535.90,107.49 535.37,107.74 534.80,107.99 534.21,108.24 533.60,108.49 532.99,108.74 532.37,108.99 531.71,109.24 531.00,109.49 530.27,109.74 529.52,109.99 528.76,110.25 528.02,110.50 527.30,110.75 526.61,111.00 525.93,111.25 525.25,111.50 524.56,111.75 523.88,112.00 523.23,112.25 522.62,112.50 522.07,112.75 521.57,113.00 521.15,113.25 520.74,113.50 520.35,113.75 519.98,114.00 519.63,114.25 519.30,114.50 519.00,114.75 518.71,115.01 518.46,115.26 518.23,115.51 518.03,115.76 517.86,116.01 517.70,116.26 517.55,116.51 517.42,116.76 517.29,117.01 517.18,117.26 517.06,117.51 516.96,117.76 516.85,118.01 516.75,118.26 516.64,118.51 516.53,118.76 516.42,119.01 516.31,119.26 516.20,119.52 516.10,119.77 516.00,120.02 515.90,120.27 515.80,120.52 515.71,120.77 515.62,121.02 515.54,121.27 515.46,121.52 515.39,121.77 515.31,122.02 515.24,122.27 515.17,122.52 515.10,122.77 515.04,123.02 514.98,123.27 514.92,123.52 514.87,123.77 514.83,124.03 514.79,124.28 514.75,124.53 514.72,124.78 514.69,125.03 514.66,125.28 514.63,125.53 514.60,125.78 514.58,126.03 514.56,126.28 514.53,126.53 514.51,126.78 514.49,127.03 514.47,127.28 514.45,127.53 514.43,127.78 514.42,128.03 514.40,128.28 514.38,128.54 514.37,128.79 514.35,129.04 514.33,129.29 514.31,129.54 514.29,129.79 514.27,130.04 514.25,130.29 514.22,130.54 514.20,130.79 514.17,131.04 514.14,131.29 514.11,131.54 514.08,131.79 514.06,132.04 514.03,132.29 513.99,132.54 513.96,132.79 513.93,133.05 513.89,133.30 513.86,133.55 513.82,133.80 513.79,134.05 513.75,134.30 513.71,134.55 513.67,134.80 513.64,135.05 513.60,135.30 513.56,135.05 513.53,134.80 513.49,134.55 513.45,134.30 513.41,134.05 513.38,133.80 513.34,133.55 513.31,133.30 513.27,133.05 513.24,132.79 513.21,132.54 513.17,132.29 513.14,132.04 513.12,131.79 513.09,131.54 513.06,131.29 513.03,131.04 513.00,130.79 512.98,130.54 512.95,130.29 512.93,130.04 512.91,129.79 512.89,129.54 512.87,129.29 512.85,129.04 512.83,128.79 512.82,128.54 512.80,128.28 512.78,128.03 512.77,127.78 512.75,127.53 512.73,127.28 512.71,127.03 512.69,126.78 512.67,126.53 512.64,126.28 512.62,126.03 512.60,125.78 512.57,125.53 512.54,125.28 512.51,125.03 512.48,124.78 512.45,124.53 512.41,124.28 512.37,124.03 512.33,123.77 512.28,123.52 512.22,123.27 512.16,123.02 512.10,122.77 512.03,122.52 511.96,122.27 511.89,122.02 511.81,121.77 511.74,121.52 511.66,121.27 511.58,121.02 511.49,120.77 511.40,120.52 511.30,120.27 511.20,120.02 511.10,119.77 511.00,119.52 510.89,119.26 510.78,119.01 510.67,118.76 510.56,118.51 510.45,118.26 510.35,118.01 510.24,117.76 510.14,117.51 510.02,117.26 509.91,117.01 509.78,116.76 509.65,116.51 509.50,116.26 509.34,116.01 509.17,115.76 508.97,115.51 508.74,115.26 508.49,115.01 508.20,114.75 507.90,114.50 507.57,114.25 507.22,114.00 506.85,113.75 506.46,113.50 506.05,113.25 505.63,113.00 505.13,112.75 504.58,112.50 503.97,112.25 503.32,112.00 502.64,111.75 501.95,111.50 501.27,111.25 500.59,111.00 499.90,110.75 499.18,110.50 498.44,110.25 497.68,109.99 496.93,109.74 496.20,109.49 495.49,109.24 494.83,108.99 494.21,108.74 493.60,108.49 492.99,108.24 492.40,107.99 491.83,107.74 491.30,107.49 490.82,107.24 490.38,106.99 490.01,106.74 489.68,106.49 489.37,106.24 489.09,105.99 488.82,105.74 488.57,105.48 488.34,105.23 488.13,104.98 487.93,104.73 487.74,104.48 487.59,104.23 487.45,103.98 487.32,103.73 487.19,103.48 487.05,103.23 486.90,102.98 486.71,102.73 486.47,102.48 486.12,102.23 485.68,101.98 485.22,101.73 484.78,101.48 484.42,101.23 484.18,100.97 484.02,100.72 483.86,100.47 483.73,100.22 483.62,99.97 483.54,99.72 483.50,99.47 483.51,99.22 483.53,98.97 483.57,98.72 483.62,98.47 483.68,98.22 483.75,97.97 483.83,97.72 483.94,97.47 484.09,97.22 484.28,96.97 484.49,96.72 484.74,96.46 485.00,96.21 485.27,95.96 485.56,95.71 485.84,95.46 486.16,95.21 486.51,94.96 486.90,94.71 487.32,94.46 487.76,94.21 488.23,93.96 488.71,93.71 489.19,93.46 489.68,93.21 490.19,92.96 490.72,92.71 491.27,92.46 491.84,92.21 492.44,91.95 493.04,91.70 493.67,91.45 494.31,91.20 494.96,90.95 495.63,90.70 496.34,90.45 497.07,90.20 497.83,89.95 498.60,89.70 499.38,89.45 500.16,89.20 500.94,88.95 501.71,88.70 502.47,88.45 503.27,88.20 504.09,87.95 504.91,87.70 505.71,87.45 506.47,87.19 507.17,86.94 507.79,86.69 508.33,86.44 508.86,86.19 509.37,85.94 509.86,85.69 510.30,85.44 510.68,85.19 511.00,84.94 511.24,84.69 511.40,84.44 511.55,84.19 511.68,83.94 511.79,83.69 511.90,83.44 511.99,83.19 512.08,82.94 512.15,82.68 512.21,82.43 512.27,82.18 512.31,81.93 512.35,81.68 512.39,81.43 512.43,81.18 512.46,80.93 512.49,80.68 512.52,80.43 512.55,80.18 512.58,79.93 512.60,79.68 512.63,79.43 512.65,79.18 512.67,78.93 512.69,78.68 512.71,78.43 512.73,78.17 512.74,77.92 512.76,77.67 512.77,77.42 512.79,77.17 512.80,76.92 512.82,76.67 512.83,76.42 512.84,76.17 512.85,75.92 512.86,75.67 512.87,75.42 512.88,75.17 512.89,74.92 512.90,74.67 512.91,74.42 512.92,74.17 512.92,73.92 512.93,73.66 512.94,73.41 512.95,73.16 512.97,72.91 512.98,72.66 512.99,72.41 513.01,72.16 513.03,71.91 513.05,71.66 513.07,71.41 513.09,71.16 513.12,70.91 513.14,70.66 513.17,70.41 513.20,70.16 513.23,69.91 513.26,69.66 513.29,69.41 513.32,69.15 513.35,68.90 513.39,68.65 513.42,68.40 513.45,68.15 513.48,67.90 513.51,67.65 513.54,67.40 513.57,67.15" fill="#3C5488" stroke="#1e2d52" stroke-width="0.50" stroke-linejoin="round"/><line x1="484.20" y1="101.00" x2="543.00" y2="101.00" stroke="#000" stroke-opacity="0.40" stroke-width="1.00"/><polygon points="588.70,101.80 588.75,102.05 588.79,102.30 588.83,102.55 588.88,102.80 588.92,103.05 588.97,103.30 589.01,103.55 589.06,103.81 589.11,104.06 589.16,104.31 589.21,104.56 589.27,104.81 589.32,105.06 589.38,105.31 589.44,105.56 589.50,105.81 589.56,106.06 589.63,106.31 589.70,106.56 589.77,106.81 589.85,107.06 589.93,107.32 590.01,107.57 590.11,107.82 590.21,108.07 590.34,108.32 590.47,108.57 590.62,108.82 590.78,109.07 590.94,109.32 591.11,109.57 591.27,109.82 591.42,110.07 591.57,110.32 591.72,110.57 591.86,110.83 592.00,111.08 592.14,111.33 592.28,111.58 592.43,111.83 592.59,112.08 592.75,112.33 592.92,112.58 593.09,112.83 593.29,113.08 593.48,113.33 593.69,113.58 593.91,113.83 594.14,114.08 594.37,114.33 594.60,114.59 594.84,114.84 595.09,115.09 595.34,115.34 595.59,115.59 595.85,115.84 596.11,116.09 596.38,116.34 596.66,116.59 596.94,116.84 597.23,117.09 597.53,117.34 597.83,117.59 598.13,117.84 598.44,118.10 598.76,118.35 599.09,118.60 599.43,118.85 599.78,119.10 600.14,119.35 600.51,119.60 600.88,119.85 601.25,120.10 601.61,120.35 601.96,120.60 602.31,120.85 602.64,121.10 602.96,121.35 603.29,121.61 603.62,121.86 603.94,122.11 604.26,122.36 604.57,122.61 604.87,122.86 605.16,123.11 605.44,123.36 605.71,123.61 605.96,123.86 606.20,124.11 606.43,124.36 606.65,124.61 606.87,124.86 607.08,125.11 607.28,125.37 607.48,125.62 607.67,125.87 607.86,126.12 608.04,126.37 608.21,126.62 608.38,126.87 608.54,127.12 608.69,127.37 608.84,127.62 608.98,127.87 609.12,128.12 609.26,128.37 609.41,128.62 609.56,128.88 609.72,129.13 609.88,129.38 610.06,129.63 610.24,129.88 610.44,130.13 610.63,130.38 610.83,130.63 611.04,130.88 611.25,131.13 611.46,131.38 611.67,131.63 611.89,131.88 612.10,132.13 612.32,132.39 612.54,132.64 612.77,132.89 613.00,133.14 613.23,133.39 613.47,133.64 613.70,133.89 613.94,134.14 614.19,134.39 614.45,134.64 614.73,134.89 615.00,135.14 615.28,135.39 615.53,135.64 615.77,135.89 615.99,136.15 616.17,136.40 616.35,136.65 616.53,136.90 616.70,137.15 616.86,137.40 617.00,137.65 617.11,137.90 617.18,138.15 617.20,138.40 617.16,138.65 617.07,138.90 616.92,139.15 616.73,139.40 616.51,139.66 616.29,139.91 616.04,140.16 615.70,140.41 615.28,140.66 614.81,140.91 614.31,141.16 613.79,141.41 613.28,141.66 612.77,141.91 612.23,142.16 611.66,142.41 611.08,142.66 610.48,142.91 609.88,143.17 609.28,143.42 608.68,143.67 608.09,143.92 607.52,144.17 606.94,144.42 606.37,144.67 605.80,144.92 605.23,145.17 604.66,145.42 604.09,145.67 603.52,145.92 602.95,146.17 602.37,146.42 601.79,146.67 601.20,146.93 600.59,147.18 599.99,147.43 599.38,147.68 598.79,147.93 598.21,148.18 597.66,148.43 597.14,148.68 596.64,148.93 596.15,149.18 595.67,149.43 595.22,149.68 594.78,149.93 594.37,150.18 593.99,150.44 593.65,150.69 593.32,150.94 593.02,151.19 592.73,151.44 592.46,151.69 592.19,151.94 591.92,152.19 591.66,152.44 591.39,152.69 591.13,152.94 590.87,153.19 590.61,153.44 590.37,153.69 590.13,153.95 589.90,154.20 589.69,154.45 589.48,154.70 589.29,154.95 589.09,155.20 588.90,155.45 588.70,155.70 588.50,155.45 588.31,155.20 588.11,154.95 587.92,154.70 587.71,154.45 587.50,154.20 587.27,153.95 587.03,153.69 586.79,153.44 586.53,153.19 586.27,152.94 586.01,152.69 585.74,152.44 585.48,152.19 585.21,151.94 584.94,151.69 584.67,151.44 584.38,151.19 584.08,150.94 583.75,150.69 583.41,150.44 583.03,150.18 582.62,149.93 582.18,149.68 581.73,149.43 581.25,149.18 580.76,148.93 580.26,148.68 579.74,148.43 579.19,148.18 578.61,147.93 578.02,147.68 577.41,147.43 576.81,147.18 576.20,146.93 575.61,146.67 575.03,146.42 574.45,146.17 573.88,145.92 573.31,145.67 572.74,145.42 572.17,145.17 571.60,144.92 571.03,144.67 570.46,144.42 569.88,144.17 569.31,143.92 568.72,143.67 568.12,143.42 567.52,143.17 566.92,142.91 566.32,142.66 565.74,142.41 565.17,142.16 564.63,141.91 564.12,141.66 563.61,141.41 563.09,141.16 562.59,140.91 562.12,140.66 561.70,140.41 561.36,140.16 561.11,139.91 560.89,139.66 560.67,139.40 560.48,139.15 560.33,138.90 560.24,138.65 560.20,138.40 560.22,138.15 560.29,137.90 560.40,137.65 560.54,137.40 560.70,137.15 560.87,136.90 561.05,136.65 561.23,136.40 561.41,136.15 561.63,135.89 561.87,135.64 562.12,135.39 562.40,135.14 562.67,134.89 562.95,134.64 563.21,134.39 563.46,134.14 563.70,133.89 563.93,133.64 564.17,133.39 564.40,133.14 564.63,132.89 564.86,132.64 565.08,132.39 565.30,132.13 565.51,131.88 565.73,131.63 565.94,131.38 566.15,131.13 566.36,130.88 566.57,130.63 566.77,130.38 566.96,130.13 567.16,129.88 567.34,129.63 567.52,129.38 567.68,129.13 567.84,128.88 567.99,128.62 568.14,128.37 568.28,128.12 568.42,127.87 568.56,127.62 568.71,127.37 568.86,127.12 569.02,126.87 569.19,126.62 569.36,126.37 569.54,126.12 569.73,125.87 569.92,125.62 570.12,125.37 570.32,125.11 570.53,124.86 570.75,124.61 570.97,124.36 571.20,124.11 571.44,123.86 571.69,123.61 571.96,123.36 572.24,123.11 572.53,122.86 572.83,122.61 573.14,122.36 573.46,122.11 573.78,121.86 574.11,121.61 574.44,121.35 574.76,121.10 575.09,120.85 575.44,120.60 575.79,120.35 576.15,120.10 576.52,119.85 576.89,119.60 577.26,119.35 577.62,119.10 577.97,118.85 578.31,118.60 578.64,118.35 578.96,118.10 579.27,117.84 579.57,117.59 579.87,117.34 580.17,117.09 580.46,116.84 580.74,116.59 581.02,116.34 581.29,116.09 581.55,115.84 581.81,115.59 582.06,115.34 582.31,115.09 582.56,114.84 582.80,114.59 583.03,114.33 583.26,114.08 583.49,113.83 583.71,113.58 583.92,113.33 584.11,113.08 584.31,112.83 584.48,112.58 584.65,112.33 584.81,112.08 584.97,111.83 585.12,111.58 585.26,111.33 585.40,111.08 585.54,110.83 585.68,110.57 585.83,110.32 585.98,110.07 586.13,109.82 586.29,109.57 586.46,109.32 586.62,109.07 586.78,108.82 586.93,108.57 587.06,108.32 587.19,108.07 587.29,107.82 587.39,107.57 587.47,107.32 587.55,107.06 587.63,106.81 587.70,106.56 587.77,106.31 587.84,106.06 587.90,105.81 587.96,105.56 588.02,105.31 588.08,105.06 588.13,104.81 588.19,104.56 588.24,104.31 588.29,104.06 588.34,103.81 588.39,103.55 588.43,103.30 588.48,103.05 588.52,102.80 588.57,102.55 588.61,102.30 588.65,102.05" fill="#E64B35" stroke="#7a2414" stroke-width="0.50" stroke-linejoin="round"/><line x1="563.40" y1="134.20" x2="614.00" y2="134.20" stroke="#000" stroke-opacity="0.40" stroke-width="1.00"/><polygon points="648.60,83.70 648.61,83.95 648.62,84.20 648.63,84.45 648.64,84.70 648.64,84.95 648.65,85.20 648.66,85.45 648.67,85.70 648.68,85.95 648.69,86.20 648.70,86.45 648.71,86.70 648.71,86.95 648.72,87.20 648.73,87.46 648.74,87.71 648.75,87.96 648.76,88.21 648.77,88.46 648.78,88.71 648.79,88.96 648.79,89.21 648.80,89.46 648.81,89.71 648.82,89.96 648.83,90.21 648.84,90.46 648.85,90.71 648.86,90.96 648.86,91.21 648.87,91.46 648.88,91.71 648.89,91.96 648.90,92.21 648.91,92.46 648.92,92.71 648.93,92.96 648.94,93.21 648.94,93.46 648.95,93.71 648.96,93.96 648.97,94.21 648.98,94.46 648.99,94.72 649.00,94.97 649.01,95.22 649.02,95.47 649.02,95.72 649.03,95.97 649.04,96.22 649.05,96.47 649.05,96.72 649.06,96.97 649.07,97.22 649.07,97.47 649.08,97.72 649.09,97.97 649.10,98.22 649.11,98.47 649.12,98.72 649.13,98.97 649.14,99.22 649.15,99.47 649.16,99.72 649.17,99.97 649.18,100.22 649.20,100.47 649.21,100.72 649.23,100.97 649.26,101.22 649.28,101.47 649.31,101.72 649.34,101.98 649.37,102.23 649.41,102.48 649.45,102.73 649.50,102.98 649.54,103.23 649.60,103.48 649.66,103.73 649.76,103.98 649.87,104.23 650.01,104.48 650.15,104.73 650.29,104.98 650.43,105.23 650.56,105.48 650.67,105.73 650.77,105.98 650.85,106.23 650.93,106.48 651.01,106.73 651.08,106.98 651.15,107.23 651.23,107.48 651.31,107.73 651.39,107.98 651.48,108.23 651.57,108.48 651.65,108.73 651.74,108.98 651.84,109.24 651.95,109.49 652.06,109.74 652.19,109.99 652.34,110.24 652.52,110.49 652.72,110.74 652.93,110.99 653.17,111.24 653.42,111.49 653.69,111.74 653.96,111.99 654.25,112.24 654.54,112.49 654.83,112.74 655.13,112.99 655.46,113.24 655.81,113.49 656.17,113.74 656.56,113.99 656.95,114.24 657.35,114.49 657.75,114.74 658.15,114.99 658.55,115.24 658.94,115.49 659.32,115.74 659.71,115.99 660.11,116.24 660.52,116.50 660.92,116.75 661.33,117.00 661.72,117.25 662.10,117.50 662.47,117.75 662.81,118.00 663.14,118.25 663.43,118.50 663.71,118.75 663.97,119.00 664.21,119.25 664.45,119.50 664.68,119.75 664.91,120.00 665.14,120.25 665.38,120.50 665.63,120.75 665.89,121.00 666.17,121.25 666.46,121.50 666.75,121.75 667.05,122.00 667.36,122.25 667.67,122.50 667.99,122.75 668.31,123.00 668.64,123.25 668.97,123.50 669.31,123.76 669.64,124.01 669.99,124.26 670.33,124.51 670.69,124.76 671.05,125.01 671.41,125.26 671.78,125.51 672.15,125.76 672.53,126.01 672.92,126.26 673.30,126.51 673.69,126.76 674.09,127.01 674.50,127.26 674.92,127.51 675.35,127.76 675.77,128.01 676.20,128.26 676.62,128.51 677.04,128.76 677.50,129.01 678.04,129.26 678.53,129.51 678.85,129.76 678.89,130.01 678.83,130.26 678.71,130.51 678.55,130.76 678.39,131.02 678.18,131.27 677.91,131.52 677.58,131.77 677.20,132.02 676.79,132.27 676.35,132.52 675.89,132.77 675.43,133.02 674.97,133.27 674.47,133.52 673.92,133.77 673.34,134.02 672.72,134.27 672.09,134.52 671.46,134.77 670.84,135.02 670.24,135.27 669.67,135.52 669.16,135.77 668.68,136.02 668.22,136.27 667.77,136.52 667.34,136.77 666.93,137.02 666.52,137.27 666.12,137.52 665.72,137.77 665.33,138.02 664.95,138.28 664.56,138.53 664.17,138.78 663.79,139.03 663.41,139.28 663.04,139.53 662.67,139.78 662.30,140.03 661.94,140.28 661.59,140.53 661.25,140.78 660.92,141.03 660.60,141.28 660.28,141.53 659.97,141.78 659.66,142.03 659.36,142.28 659.07,142.53 658.78,142.78 658.50,143.03 658.23,143.28 657.97,143.53 657.72,143.78 657.47,144.03 657.24,144.28 657.01,144.53 656.80,144.78 656.59,145.03 656.38,145.28 656.18,145.54 655.97,145.79 655.77,146.04 655.56,146.29 655.35,146.54 655.14,146.79 654.92,147.04 654.70,147.29 654.48,147.54 654.26,147.79 654.04,148.04 653.83,148.29 653.61,148.54 653.41,148.79 653.21,149.04 653.01,149.29 652.81,149.54 652.62,149.79 652.43,150.04 652.24,150.29 652.06,150.54 651.88,150.79 651.70,151.04 651.53,151.29 651.35,151.54 651.18,151.79 651.02,152.04 650.85,152.29 650.69,152.54 650.53,152.80 650.37,153.05 650.22,153.30 650.07,153.55 649.93,153.80 649.79,154.05 649.65,154.30 649.52,154.55 649.38,154.80 649.25,155.05 649.12,155.30 648.99,155.55 648.86,155.80 648.73,156.05 648.60,156.30 648.47,156.05 648.34,155.80 648.21,155.55 648.08,155.30 647.95,155.05 647.82,154.80 647.68,154.55 647.55,154.30 647.41,154.05 647.27,153.80 647.13,153.55 646.98,153.30 646.83,153.05 646.67,152.80 646.51,152.54 646.35,152.29 646.18,152.04 646.02,151.79 645.85,151.54 645.67,151.29 645.50,151.04 645.32,150.79 645.14,150.54 644.96,150.29 644.77,150.04 644.58,149.79 644.39,149.54 644.19,149.29 643.99,149.04 643.79,148.79 643.59,148.54 643.37,148.29 643.16,148.04 642.94,147.79 642.72,147.54 642.50,147.29 642.28,147.04 642.06,146.79 641.85,146.54 641.64,146.29 641.43,146.04 641.23,145.79 641.02,145.54 640.82,145.28 640.61,145.03 640.40,144.78 640.19,144.53 639.96,144.28 639.73,144.03 639.48,143.78 639.23,143.53 638.97,143.28 638.70,143.03 638.42,142.78 638.13,142.53 637.84,142.28 637.54,142.03 637.23,141.78 636.92,141.53 636.60,141.28 636.28,141.03 635.95,140.78 635.61,140.53 635.26,140.28 634.90,140.03 634.53,139.78 634.16,139.53 633.79,139.28 633.41,139.03 633.03,138.78 632.64,138.53 632.25,138.28 631.87,138.02 631.48,137.77 631.08,137.52 630.68,137.27 630.27,137.02 629.86,136.77 629.43,136.52 628.98,136.27 628.52,136.02 628.04,135.77 627.53,135.52 626.96,135.27 626.36,135.02 625.74,134.77 625.11,134.52 624.48,134.27 623.86,134.02 623.28,133.77 622.73,133.52 622.23,133.27 621.77,133.02 621.31,132.77 620.85,132.52 620.41,132.27 620.00,132.02 619.62,131.77 619.29,131.52 619.02,131.27 618.81,131.02 618.65,130.76 618.49,130.51 618.37,130.26 618.31,130.01 618.35,129.76 618.67,129.51 619.16,129.26 619.70,129.01 620.16,128.76 620.58,128.51 621.00,128.26 621.43,128.01 621.85,127.76 622.28,127.51 622.70,127.26 623.11,127.01 623.51,126.76 623.90,126.51 624.28,126.26 624.67,126.01 625.05,125.76 625.42,125.51 625.79,125.26 626.15,125.01 626.51,124.76 626.87,124.51 627.21,124.26 627.56,124.01 627.89,123.76 628.23,123.50 628.56,123.25 628.89,123.00 629.21,122.75 629.53,122.50 629.84,122.25 630.15,122.00 630.45,121.75 630.74,121.50 631.03,121.25 631.31,121.00 631.57,120.75 631.82,120.50 632.06,120.25 632.29,120.00 632.52,119.75 632.75,119.50 632.99,119.25 633.23,119.00 633.49,118.75 633.77,118.50 634.06,118.25 634.39,118.00 634.73,117.75 635.10,117.50 635.48,117.25 635.87,117.00 636.28,116.75 636.68,116.50 637.09,116.24 637.49,115.99 637.88,115.74 638.26,115.49 638.65,115.24 639.05,114.99 639.45,114.74 639.85,114.49 640.25,114.24 640.64,113.99 641.03,113.74 641.39,113.49 641.74,113.24 642.07,112.99 642.37,112.74 642.66,112.49 642.95,112.24 643.24,111.99 643.51,111.74 643.78,111.49 644.03,111.24 644.27,110.99 644.48,110.74 644.68,110.49 644.86,110.24 645.01,109.99 645.14,109.74 645.25,109.49 645.36,109.24 645.46,108.98 645.55,108.73 645.63,108.48 645.72,108.23 645.81,107.98 645.89,107.73 645.97,107.48 646.05,107.23 646.12,106.98 646.19,106.73 646.27,106.48 646.35,106.23 646.43,105.98 646.53,105.73 646.64,105.48 646.77,105.23 646.91,104.98 647.05,104.73 647.19,104.48 647.33,104.23 647.44,103.98 647.54,103.73 647.60,103.48 647.66,103.23 647.70,102.98 647.75,102.73 647.79,102.48 647.83,102.23 647.86,101.98 647.89,101.72 647.92,101.47 647.94,101.22 647.97,100.97 647.99,100.72 648.00,100.47 648.02,100.22 648.03,99.97 648.04,99.72 648.05,99.47 648.06,99.22 648.07,98.97 648.08,98.72 648.09,98.47 648.10,98.22 648.11,97.97 648.12,97.72 648.13,97.47 648.13,97.22 648.14,96.97 648.15,96.72 648.15,96.47 648.16,96.22 648.17,95.97 648.18,95.72 648.18,95.47 648.19,95.22 648.20,94.97 648.21,94.72 648.22,94.46 648.23,94.21 648.24,93.96 648.25,93.71 648.26,93.46 648.26,93.21 648.27,92.96 648.28,92.71 648.29,92.46 648.30,92.21 648.31,91.96 648.32,91.71 648.33,91.46 648.34,91.21 648.34,90.96 648.35,90.71 648.36,90.46 648.37,90.21 648.38,89.96 648.39,89.71 648.40,89.46 648.41,89.21 648.41,88.96 648.42,88.71 648.43,88.46 648.44,88.21 648.45,87.96 648.46,87.71 648.47,87.46 648.48,87.20 648.49,86.95 648.49,86.70 648.50,86.45 648.51,86.20 648.52,85.95 648.53,85.70 648.54,85.45 648.55,85.20 648.56,84.95 648.56,84.70 648.57,84.45 648.58,84.20 648.59,83.95" fill="#3C5488" stroke="#1e2d52" stroke-width="0.50" stroke-linejoin="round"/><line x1="618.35" y1="130.20" x2="678.85" y2="130.20" stroke="#000" stroke-opacity="0.40" stroke-width="1.00"/><polygon points="453.80,211.90 453.81,212.15 453.83,212.40 453.84,212.65 453.86,212.90 453.87,213.15 453.89,213.40 453.91,213.65 453.92,213.90 453.94,214.15 453.95,214.40 453.97,214.65 453.98,214.90 454.00,215.15 454.01,215.41 454.03,215.66 454.04,215.91 454.05,216.16 454.07,216.41 454.08,216.66 454.10,216.91 454.11,217.16 454.12,217.41 454.13,217.66 454.14,217.91 454.15,218.16 454.16,218.41 454.16,218.66 454.17,218.91 454.18,219.16 454.19,219.41 454.20,219.66 454.21,219.91 454.23,220.16 454.24,220.41 454.26,220.66 454.28,220.91 454.31,221.16 454.36,221.41 454.44,221.66 454.54,221.91 454.68,222.16 454.83,222.41 454.99,222.67 455.17,222.92 455.36,223.17 455.56,223.42 455.75,223.67 455.98,223.92 456.24,224.17 456.54,224.42 456.86,224.67 457.20,224.92 457.56,225.17 457.93,225.42 458.30,225.67 458.68,225.92 459.06,226.17 459.46,226.42 459.89,226.67 460.33,226.92 460.78,227.17 461.23,227.42 461.69,227.67 462.14,227.92 462.60,228.17 463.09,228.42 463.58,228.67 464.06,228.92 464.54,229.17 464.99,229.43 465.41,229.68 465.79,229.93 466.14,230.18 466.47,230.43 466.79,230.68 467.10,230.93 467.40,231.18 467.69,231.43 467.97,231.68 468.26,231.93 468.53,232.18 468.80,232.43 469.06,232.68 469.32,232.93 469.57,233.18 469.83,233.43 470.09,233.68 470.34,233.93 470.59,234.18 470.84,234.43 471.09,234.68 471.34,234.93 471.58,235.18 471.83,235.43 472.09,235.68 472.34,235.93 472.59,236.18 472.84,236.44 473.09,236.69 473.34,236.94 473.59,237.19 473.83,237.44 474.08,237.69 474.32,237.94 474.57,238.19 474.80,238.44 475.03,238.69 475.25,238.94 475.46,239.19 475.66,239.44 475.86,239.69 476.05,239.94 476.24,240.19 476.41,240.44 476.57,240.69 476.72,240.94 476.86,241.19 477.00,241.44 477.13,241.69 477.25,241.94 477.36,242.19 477.47,242.44 477.56,242.69 477.65,242.94 477.74,243.19 477.83,243.44 477.91,243.70 477.98,243.95 478.04,244.20 478.08,244.45 478.11,244.70 478.12,244.95 478.14,245.20 478.16,245.45 478.17,245.70 478.18,245.95 478.19,246.20 478.19,246.45 478.20,246.70 478.20,246.95 478.20,247.20 478.19,247.45 478.18,247.70 478.16,247.95 478.14,248.20 478.11,248.45 478.08,248.70 478.05,248.95 478.01,249.20 477.97,249.45 477.93,249.70 477.89,249.95 477.84,250.20 477.77,250.46 477.68,250.71 477.59,250.96 477.48,251.21 477.35,251.46 477.22,251.71 477.08,251.96 476.92,252.21 476.76,252.46 476.57,252.71 476.33,252.96 476.06,253.21 475.75,253.46 475.42,253.71 475.07,253.96 474.69,254.21 474.30,254.46 473.91,254.71 473.50,254.96 473.05,255.21 472.54,255.46 472.00,255.71 471.43,255.96 470.84,256.21 470.23,256.46 469.64,256.71 469.05,256.96 468.48,257.21 467.94,257.47 467.37,257.72 466.79,257.97 466.21,258.22 465.63,258.47 465.07,258.72 464.54,258.97 464.04,259.22 463.60,259.47 463.21,259.72 462.88,259.97 462.57,260.22 462.27,260.47 461.99,260.72 461.73,260.97 461.49,261.22 461.27,261.47 461.07,261.72 460.89,261.97 460.74,262.22 460.61,262.47 460.50,262.72 460.39,262.97 460.29,263.22 460.20,263.47 460.12,263.72 460.04,263.97 459.97,264.22 459.89,264.48 459.82,264.73 459.75,264.98 459.68,265.23 459.62,265.48 459.56,265.73 459.50,265.98 459.44,266.23 459.38,266.48 459.32,266.73 459.26,266.98 459.19,267.23 459.12,267.48 459.05,267.73 458.98,267.98 458.91,268.23 458.83,268.48 458.75,268.73 458.67,268.98 458.58,269.23 458.49,269.48 458.39,269.73 458.27,269.98 458.14,270.23 458.00,270.48 457.84,270.73 457.68,270.98 457.52,271.23 457.35,271.49 457.19,271.74 457.03,271.99 456.88,272.24 456.73,272.49 456.57,272.74 456.41,272.99 456.25,273.24 456.09,273.49 455.94,273.74 455.80,273.99 455.67,274.24 455.55,274.49 455.44,274.74 455.34,274.99 455.25,275.24 455.16,275.49 455.07,275.74 454.99,275.99 454.92,276.24 454.85,276.49 454.78,276.74 454.72,276.99 454.67,277.24 454.62,277.49 454.58,277.74 454.54,277.99 454.50,278.24 454.46,278.50 454.42,278.75 454.38,279.00 454.34,279.25 454.30,279.50 454.25,279.75 454.21,280.00 454.16,280.25 454.11,280.50 454.06,280.75 454.00,281.00 453.95,281.25 453.90,281.50 453.85,281.75 453.80,282.00 453.75,281.75 453.70,281.50 453.65,281.25 453.60,281.00 453.54,280.75 453.49,280.50 453.44,280.25 453.39,280.00 453.35,279.75 453.30,279.50 453.26,279.25 453.22,279.00 453.18,278.75 453.14,278.50 453.10,278.24 453.06,277.99 453.02,277.74 452.98,277.49 452.93,277.24 452.88,276.99 452.82,276.74 452.75,276.49 452.68,276.24 452.61,275.99 452.53,275.74 452.44,275.49 452.35,275.24 452.26,274.99 452.16,274.74 452.05,274.49 451.93,274.24 451.80,273.99 451.66,273.74 451.51,273.49 451.35,273.24 451.19,272.99 451.03,272.74 450.87,272.49 450.72,272.24 450.57,271.99 450.41,271.74 450.25,271.49 450.08,271.23 449.92,270.98 449.76,270.73 449.60,270.48 449.46,270.23 449.33,269.98 449.21,269.73 449.11,269.48 449.02,269.23 448.93,268.98 448.85,268.73 448.77,268.48 448.69,268.23 448.62,267.98 448.55,267.73 448.48,267.48 448.41,267.23 448.34,266.98 448.28,266.73 448.22,266.48 448.16,266.23 448.10,265.98 448.04,265.73 447.98,265.48 447.92,265.23 447.85,264.98 447.78,264.73 447.71,264.48 447.63,264.22 447.56,263.97 447.48,263.72 447.40,263.47 447.31,263.22 447.21,262.97 447.10,262.72 446.99,262.47 446.86,262.22 446.71,261.97 446.53,261.72 446.33,261.47 446.11,261.22 445.87,260.97 445.61,260.72 445.33,260.47 445.03,260.22 444.72,259.97 444.39,259.72 444.00,259.47 443.56,259.22 443.06,258.97 442.53,258.72 441.97,258.47 441.39,258.22 440.81,257.97 440.23,257.72 439.66,257.47 439.12,257.21 438.55,256.96 437.96,256.71 437.37,256.46 436.76,256.21 436.17,255.96 435.60,255.71 435.06,255.46 434.55,255.21 434.10,254.96 433.69,254.71 433.30,254.46 432.91,254.21 432.53,253.96 432.18,253.71 431.85,253.46 431.54,253.21 431.27,252.96 431.03,252.71 430.84,252.46 430.68,252.21 430.52,251.96 430.38,251.71 430.25,251.46 430.12,251.21 430.01,250.96 429.92,250.71 429.83,250.46 429.76,250.20 429.71,249.95 429.67,249.70 429.63,249.45 429.59,249.20 429.55,248.95 429.52,248.70 429.49,248.45 429.46,248.20 429.44,247.95 429.42,247.70 429.41,247.45 429.40,247.20 429.40,246.95 429.40,246.70 429.41,246.45 429.41,246.20 429.42,245.95 429.43,245.70 429.44,245.45 429.46,245.20 429.48,244.95 429.49,244.70 429.52,244.45 429.56,244.20 429.62,243.95 429.69,243.70 429.77,243.44 429.86,243.19 429.95,242.94 430.04,242.69 430.13,242.44 430.24,242.19 430.35,241.94 430.47,241.69 430.60,241.44 430.74,241.19 430.88,240.94 431.03,240.69 431.19,240.44 431.36,240.19 431.55,239.94 431.74,239.69 431.94,239.44 432.14,239.19 432.35,238.94 432.57,238.69 432.80,238.44 433.03,238.19 433.28,237.94 433.52,237.69 433.77,237.44 434.01,237.19 434.26,236.94 434.51,236.69 434.76,236.44 435.01,236.18 435.26,235.93 435.51,235.68 435.77,235.43 436.02,235.18 436.26,234.93 436.51,234.68 436.76,234.43 437.01,234.18 437.26,233.93 437.51,233.68 437.77,233.43 438.03,233.18 438.28,232.93 438.54,232.68 438.80,232.43 439.07,232.18 439.34,231.93 439.63,231.68 439.91,231.43 440.20,231.18 440.50,230.93 440.81,230.68 441.13,230.43 441.46,230.18 441.81,229.93 442.19,229.68 442.61,229.43 443.06,229.17 443.54,228.92 444.02,228.67 444.51,228.42 445.00,228.17 445.46,227.92 445.91,227.67 446.37,227.42 446.82,227.17 447.27,226.92 447.71,226.67 448.14,226.42 448.54,226.17 448.92,225.92 449.30,225.67 449.67,225.42 450.04,225.17 450.40,224.92 450.74,224.67 451.06,224.42 451.36,224.17 451.62,223.92 451.85,223.67 452.04,223.42 452.24,223.17 452.43,222.92 452.61,222.67 452.77,222.41 452.92,222.16 453.06,221.91 453.16,221.66 453.24,221.41 453.29,221.16 453.32,220.91 453.34,220.66 453.36,220.41 453.37,220.16 453.39,219.91 453.40,219.66 453.41,219.41 453.42,219.16 453.43,218.91 453.44,218.66 453.44,218.41 453.45,218.16 453.46,217.91 453.47,217.66 453.48,217.41 453.49,217.16 453.50,216.91 453.52,216.66 453.53,216.41 453.55,216.16 453.56,215.91 453.57,215.66 453.59,215.41 453.60,215.15 453.62,214.90 453.63,214.65 453.65,214.40 453.66,214.15 453.68,213.90 453.69,213.65 453.71,213.40 453.73,213.15 453.74,212.90 453.76,212.65 453.77,212.40 453.79,212.15" fill="#E64B35" stroke="#7a2414" stroke-width="0.50" stroke-linejoin="round"/><line x1="429.40" y1="247.00" x2="478.20" y2="247.00" stroke="#000" stroke-opacity="0.40" stroke-width="1.00"/><polygon points="513.60,210.90 513.63,211.15 513.66,211.40 513.70,211.65 513.73,211.90 513.76,212.15 513.80,212.40 513.83,212.65 513.87,212.90 513.90,213.15 513.93,213.40 513.96,213.65 513.99,213.90 514.02,214.15 514.05,214.40 514.07,214.65 514.09,214.90 514.11,215.15 514.13,215.40 514.14,215.65 514.15,215.90 514.16,216.15 514.17,216.40 514.18,216.65 514.19,216.90 514.20,217.15 514.22,217.40 514.23,217.65 514.25,217.90 514.27,218.16 514.29,218.41 514.32,218.66 514.39,218.91 514.47,219.16 514.58,219.41 514.69,219.66 514.81,219.91 514.93,220.16 515.05,220.41 515.16,220.66 515.28,220.91 515.41,221.16 515.54,221.41 515.68,221.66 515.82,221.91 515.97,222.16 516.13,222.41 516.30,222.66 516.48,222.91 516.67,223.16 516.87,223.41 517.09,223.66 517.31,223.91 517.56,224.16 517.83,224.41 518.12,224.66 518.43,224.91 518.76,225.16 519.10,225.41 519.46,225.66 519.81,225.91 520.18,226.16 520.57,226.41 520.97,226.66 521.39,226.91 521.82,227.16 522.27,227.41 522.73,227.66 523.22,227.91 523.74,228.16 524.30,228.41 524.88,228.66 525.47,228.91 526.07,229.16 526.66,229.41 527.25,229.66 527.84,229.91 528.44,230.16 529.04,230.41 529.65,230.66 530.24,230.91 530.83,231.16 531.41,231.41 531.96,231.66 532.51,231.91 533.05,232.16 533.58,232.41 534.11,232.67 534.62,232.92 535.13,233.17 535.63,233.42 536.13,233.67 536.64,233.92 537.14,234.17 537.63,234.42 538.10,234.67 538.54,234.92 538.95,235.17 539.33,235.42 539.69,235.67 540.04,235.92 540.37,236.17 540.68,236.42 540.96,236.67 541.22,236.92 541.45,237.17 541.67,237.42 541.88,237.67 542.07,237.92 542.25,238.17 542.42,238.42 542.57,238.67 542.71,238.92 542.85,239.17 542.99,239.42 543.13,239.67 543.27,239.92 543.40,240.17 543.51,240.42 543.60,240.67 543.66,240.92 543.70,241.17 543.70,241.42 543.69,241.67 543.68,241.92 543.67,242.17 543.65,242.42 543.62,242.67 543.59,242.92 543.56,243.17 543.53,243.42 543.49,243.67 543.43,243.92 543.34,244.17 543.23,244.42 543.10,244.67 542.96,244.92 542.82,245.17 542.66,245.42 542.47,245.67 542.26,245.92 542.03,246.17 541.78,246.42 541.50,246.67 541.21,246.92 540.90,247.18 540.58,247.43 540.23,247.68 539.86,247.93 539.42,248.18 538.92,248.43 538.38,248.68 537.81,248.93 537.20,249.18 536.59,249.43 535.96,249.68 535.34,249.93 534.72,250.18 534.13,250.43 533.56,250.68 533.03,250.93 532.49,251.18 531.96,251.43 531.41,251.68 530.88,251.93 530.34,252.18 529.82,252.43 529.31,252.68 528.81,252.93 528.33,253.18 527.88,253.43 527.45,253.68 527.05,253.93 526.68,254.18 526.31,254.43 525.97,254.68 525.63,254.93 525.31,255.18 524.99,255.43 524.69,255.68 524.39,255.93 524.10,256.18 523.82,256.43 523.54,256.68 523.27,256.93 523.01,257.18 522.75,257.43 522.49,257.68 522.24,257.93 522.00,258.18 521.76,258.43 521.53,258.68 521.30,258.93 521.08,259.18 520.86,259.43 520.65,259.68 520.44,259.93 520.23,260.18 520.03,260.43 519.83,260.68 519.63,260.93 519.43,261.18 519.24,261.43 519.06,261.69 518.87,261.94 518.70,262.19 518.53,262.44 518.36,262.69 518.20,262.94 518.05,263.19 517.90,263.44 517.75,263.69 517.60,263.94 517.46,264.19 517.31,264.44 517.18,264.69 517.05,264.94 516.92,265.19 516.81,265.44 516.70,265.69 516.60,265.94 516.50,266.19 516.42,266.44 516.34,266.69 516.27,266.94 516.20,267.19 516.13,267.44 516.07,267.69 516.01,267.94 515.95,268.19 515.89,268.44 515.83,268.69 515.78,268.94 515.72,269.19 515.67,269.44 515.62,269.69 515.56,269.94 515.51,270.19 515.46,270.44 515.41,270.69 515.37,270.94 515.32,271.19 515.27,271.44 515.23,271.69 515.18,271.94 515.14,272.19 515.09,272.44 515.05,272.69 515.00,272.94 514.96,273.19 514.92,273.44 514.88,273.69 514.83,273.94 514.79,274.19 514.75,274.44 514.71,274.69 514.68,274.94 514.64,275.19 514.61,275.44 514.57,275.69 514.54,275.94 514.52,276.20 514.49,276.45 514.46,276.70 514.43,276.95 514.41,277.20 514.38,277.45 514.36,277.70 514.34,277.95 514.31,278.20 514.29,278.45 514.26,278.70 514.24,278.95 514.21,279.20 514.18,279.45 514.15,279.70 514.12,279.95 514.09,280.20 514.05,280.45 514.02,280.70 513.98,280.95 513.94,281.20 513.90,281.45 513.85,281.70 513.81,281.95 513.77,282.20 513.73,282.45 513.68,282.70 513.64,282.95 513.60,283.20 513.56,282.95 513.52,282.70 513.47,282.45 513.43,282.20 513.39,281.95 513.35,281.70 513.30,281.45 513.26,281.20 513.22,280.95 513.18,280.70 513.15,280.45 513.11,280.20 513.08,279.95 513.05,279.70 513.02,279.45 512.99,279.20 512.96,278.95 512.94,278.70 512.91,278.45 512.89,278.20 512.86,277.95 512.84,277.70 512.82,277.45 512.79,277.20 512.77,276.95 512.74,276.70 512.71,276.45 512.68,276.20 512.66,275.94 512.63,275.69 512.59,275.44 512.56,275.19 512.52,274.94 512.49,274.69 512.45,274.44 512.41,274.19 512.37,273.94 512.32,273.69 512.28,273.44 512.24,273.19 512.20,272.94 512.15,272.69 512.11,272.44 512.06,272.19 512.02,271.94 511.97,271.69 511.93,271.44 511.88,271.19 511.83,270.94 511.79,270.69 511.74,270.44 511.69,270.19 511.64,269.94 511.58,269.69 511.53,269.44 511.48,269.19 511.42,268.94 511.37,268.69 511.31,268.44 511.25,268.19 511.19,267.94 511.13,267.69 511.07,267.44 511.00,267.19 510.93,266.94 510.86,266.69 510.78,266.44 510.70,266.19 510.60,265.94 510.50,265.69 510.39,265.44 510.28,265.19 510.15,264.94 510.02,264.69 509.89,264.44 509.74,264.19 509.60,263.94 509.45,263.69 509.30,263.44 509.15,263.19 509.00,262.94 508.84,262.69 508.67,262.44 508.50,262.19 508.33,261.94 508.14,261.69 507.96,261.43 507.77,261.18 507.57,260.93 507.37,260.68 507.17,260.43 506.97,260.18 506.76,259.93 506.55,259.68 506.34,259.43 506.12,259.18 505.90,258.93 505.67,258.68 505.44,258.43 505.20,258.18 504.96,257.93 504.71,257.68 504.45,257.43 504.19,257.18 503.93,256.93 503.66,256.68 503.38,256.43 503.10,256.18 502.81,255.93 502.51,255.68 502.21,255.43 501.89,255.18 501.57,254.93 501.23,254.68 500.89,254.43 500.52,254.18 500.15,253.93 499.75,253.68 499.32,253.43 498.87,253.18 498.39,252.93 497.89,252.68 497.38,252.43 496.86,252.18 496.32,251.93 495.79,251.68 495.24,251.43 494.71,251.18 494.17,250.93 493.64,250.68 493.07,250.43 492.48,250.18 491.86,249.93 491.24,249.68 490.61,249.43 490.00,249.18 489.39,248.93 488.82,248.68 488.28,248.43 487.78,248.18 487.34,247.93 486.97,247.68 486.62,247.43 486.30,247.18 485.99,246.92 485.70,246.67 485.42,246.42 485.17,246.17 484.94,245.92 484.73,245.67 484.54,245.42 484.38,245.17 484.24,244.92 484.10,244.67 483.97,244.42 483.86,244.17 483.77,243.92 483.71,243.67 483.67,243.42 483.64,243.17 483.61,242.92 483.58,242.67 483.55,242.42 483.53,242.17 483.52,241.92 483.51,241.67 483.50,241.42 483.50,241.17 483.54,240.92 483.60,240.67 483.69,240.42 483.80,240.17 483.93,239.92 484.07,239.67 484.21,239.42 484.35,239.17 484.49,238.92 484.63,238.67 484.78,238.42 484.95,238.17 485.13,237.92 485.32,237.67 485.53,237.42 485.75,237.17 485.98,236.92 486.24,236.67 486.52,236.42 486.83,236.17 487.16,235.92 487.51,235.67 487.87,235.42 488.25,235.17 488.66,234.92 489.10,234.67 489.57,234.42 490.06,234.17 490.56,233.92 491.07,233.67 491.57,233.42 492.07,233.17 492.58,232.92 493.09,232.67 493.62,232.41 494.15,232.16 494.69,231.91 495.24,231.66 495.79,231.41 496.37,231.16 496.96,230.91 497.55,230.66 498.16,230.41 498.76,230.16 499.36,229.91 499.95,229.66 500.54,229.41 501.13,229.16 501.73,228.91 502.32,228.66 502.90,228.41 503.46,228.16 503.98,227.91 504.47,227.66 504.93,227.41 505.38,227.16 505.81,226.91 506.23,226.66 506.63,226.41 507.02,226.16 507.39,225.91 507.74,225.66 508.10,225.41 508.44,225.16 508.77,224.91 509.08,224.66 509.37,224.41 509.64,224.16 509.89,223.91 510.11,223.66 510.33,223.41 510.53,223.16 510.72,222.91 510.90,222.66 511.07,222.41 511.23,222.16 511.38,221.91 511.52,221.66 511.66,221.41 511.79,221.16 511.92,220.91 512.04,220.66 512.15,220.41 512.27,220.16 512.39,219.91 512.51,219.66 512.62,219.41 512.73,219.16 512.81,218.91 512.88,218.66 512.91,218.41 512.93,218.16 512.95,217.90 512.97,217.65 512.98,217.40 513.00,217.15 513.01,216.90 513.02,216.65 513.03,216.40 513.04,216.15 513.05,215.90 513.06,215.65 513.07,215.40 513.09,215.15 513.11,214.90 513.13,214.65 513.15,214.40 513.18,214.15 513.21,213.90 513.24,213.65 513.27,213.40 513.30,213.15 513.33,212.90 513.37,212.65 513.40,212.40 513.44,212.15 513.47,211.90 513.50,211.65 513.54,211.40 513.57,211.15" fill="#3C5488" stroke="#1e2d52" stroke-width="0.50" stroke-linejoin="round"/><line x1="483.70" y1="243.60" x2="543.50" y2="243.60" stroke="#000" stroke-opacity="0.40" stroke-width="1.00"/><polygon points="589.90,213.40 589.92,213.65 589.95,213.90 589.97,214.15 590.00,214.40 590.02,214.65 590.05,214.90 590.07,215.15 590.10,215.40 590.12,215.65 590.15,215.90 590.17,216.15 590.19,216.40 590.22,216.65 590.24,216.90 590.25,217.15 590.27,217.40 590.28,217.65 590.30,217.90 590.31,218.15 590.31,218.40 590.32,218.65 590.33,218.90 590.34,219.15 590.34,219.40 590.35,219.65 590.35,219.90 590.36,220.15 590.36,220.40 590.37,220.65 590.37,220.90 590.38,221.15 590.38,221.41 590.39,221.66 590.40,221.91 590.40,222.16 590.41,222.41 590.42,222.66 590.42,222.91 590.43,223.16 590.44,223.41 590.45,223.66 590.46,223.91 590.47,224.16 590.48,224.41 590.49,224.66 590.51,224.91 590.53,225.16 590.57,225.41 590.61,225.66 590.65,225.91 590.70,226.16 590.76,226.41 590.82,226.66 590.88,226.91 590.94,227.16 591.00,227.41 591.07,227.66 591.15,227.91 591.23,228.16 591.32,228.41 591.42,228.66 591.52,228.91 591.63,229.16 591.76,229.41 591.90,229.66 592.06,229.91 592.24,230.16 592.43,230.41 592.64,230.66 592.86,230.91 593.08,231.16 593.32,231.41 593.56,231.66 593.82,231.91 594.10,232.16 594.39,232.41 594.70,232.66 595.03,232.91 595.36,233.16 595.70,233.41 596.05,233.66 596.41,233.91 596.79,234.16 597.18,234.41 597.60,234.66 598.02,234.91 598.44,235.16 598.87,235.41 599.30,235.66 599.72,235.91 600.16,236.16 600.60,236.41 601.05,236.66 601.51,236.92 601.96,237.17 602.40,237.42 602.82,237.67 603.22,237.92 603.60,238.17 603.95,238.42 604.29,238.67 604.62,238.92 604.94,239.17 605.25,239.42 605.55,239.67 605.84,239.92 606.13,240.17 606.42,240.42 606.70,240.67 606.97,240.92 607.24,241.17 607.50,241.42 607.76,241.67 608.01,241.92 608.26,242.17 608.52,242.42 608.77,242.67 609.02,242.92 609.28,243.17 609.53,243.42 609.78,243.67 610.02,243.92 610.27,244.17 610.52,244.42 610.77,244.67 611.02,244.92 611.28,245.17 611.54,245.42 611.80,245.67 612.06,245.92 612.31,246.17 612.56,246.42 612.80,246.67 613.03,246.92 613.25,247.17 613.45,247.42 613.65,247.67 613.85,247.92 614.03,248.17 614.22,248.42 614.40,248.67 614.58,248.92 614.76,249.17 614.95,249.42 615.14,249.67 615.34,249.92 615.55,250.17 615.77,250.42 616.00,250.67 616.24,250.92 616.48,251.17 616.73,251.42 616.96,251.67 617.19,251.92 617.41,252.17 617.62,252.43 617.80,252.68 617.96,252.93 618.10,253.18 618.25,253.43 618.38,253.68 618.50,253.93 618.58,254.18 618.60,254.43 618.60,254.68 618.59,254.93 618.58,255.18 618.56,255.43 618.54,255.68 618.52,255.93 618.49,256.18 618.45,256.43 618.41,256.68 618.37,256.93 618.32,257.18 618.26,257.43 618.07,257.68 617.76,257.93 617.36,258.18 616.88,258.43 616.34,258.68 615.77,258.93 615.18,259.18 614.59,259.43 614.02,259.68 613.38,259.93 612.67,260.18 611.90,260.43 611.09,260.68 610.27,260.93 609.45,261.18 608.66,261.43 607.91,261.68 607.22,261.93 606.56,262.18 605.90,262.43 605.26,262.68 604.63,262.93 604.02,263.18 603.44,263.43 602.89,263.68 602.39,263.93 601.93,264.18 601.50,264.43 601.06,264.68 600.63,264.93 600.22,265.18 599.84,265.43 599.49,265.68 599.20,265.93 598.98,266.18 598.83,266.43 598.74,266.68 598.66,266.93 598.60,267.18 598.54,267.43 598.49,267.68 598.44,267.94 598.40,268.19 598.36,268.44 598.33,268.69 598.30,268.94 598.26,269.19 598.22,269.44 598.19,269.69 598.15,269.94 598.12,270.19 598.10,270.44 598.07,270.69 598.05,270.94 598.02,271.19 598.00,271.44 597.97,271.69 597.94,271.94 597.90,272.19 597.85,272.44 597.80,272.69 597.73,272.94 597.61,273.19 597.46,273.44 597.29,273.69 597.11,273.94 596.91,274.19 596.71,274.44 596.52,274.69 596.34,274.94 596.18,275.19 596.01,275.44 595.85,275.69 595.69,275.94 595.52,276.19 595.36,276.44 595.20,276.69 595.03,276.94 594.87,277.19 594.71,277.44 594.54,277.69 594.36,277.94 594.19,278.19 594.01,278.44 593.84,278.69 593.66,278.94 593.49,279.19 593.33,279.44 593.18,279.69 593.03,279.94 592.90,280.19 592.78,280.44 592.67,280.69 592.57,280.94 592.47,281.19 592.37,281.44 592.28,281.69 592.20,281.94 592.12,282.19 592.03,282.44 591.95,282.69 591.88,282.94 591.80,283.19 591.72,283.45 591.64,283.70 591.56,283.95 591.48,284.20 591.40,284.45 591.33,284.70 591.25,284.95 591.18,285.20 591.10,285.45 591.03,285.70 590.97,285.95 590.90,286.20 590.84,286.45 590.78,286.70 590.72,286.95 590.66,287.20 590.61,287.45 590.56,287.70 590.51,287.95 590.46,288.20 590.41,288.45 590.36,288.70 590.31,288.95 590.26,289.20 590.21,289.45 590.17,289.70 590.12,289.95 590.08,290.20 590.03,290.45 589.99,290.70 589.95,290.95 589.90,291.20 589.85,290.95 589.81,290.70 589.77,290.45 589.72,290.20 589.68,289.95 589.63,289.70 589.59,289.45 589.54,289.20 589.49,288.95 589.44,288.70 589.39,288.45 589.34,288.20 589.29,287.95 589.24,287.70 589.19,287.45 589.14,287.20 589.08,286.95 589.02,286.70 588.96,286.45 588.90,286.20 588.83,285.95 588.77,285.70 588.70,285.45 588.62,285.20 588.55,284.95 588.47,284.70 588.40,284.45 588.32,284.20 588.24,283.95 588.16,283.70 588.08,283.45 588.00,283.19 587.92,282.94 587.85,282.69 587.77,282.44 587.68,282.19 587.60,281.94 587.52,281.69 587.43,281.44 587.33,281.19 587.23,280.94 587.13,280.69 587.02,280.44 586.90,280.19 586.77,279.94 586.62,279.69 586.47,279.44 586.31,279.19 586.14,278.94 585.96,278.69 585.79,278.44 585.61,278.19 585.44,277.94 585.26,277.69 585.09,277.44 584.93,277.19 584.77,276.94 584.60,276.69 584.44,276.44 584.28,276.19 584.11,275.94 583.95,275.69 583.79,275.44 583.62,275.19 583.46,274.94 583.28,274.69 583.09,274.44 582.89,274.19 582.69,273.94 582.51,273.69 582.34,273.44 582.19,273.19 582.07,272.94 582.00,272.69 581.95,272.44 581.90,272.19 581.86,271.94 581.83,271.69 581.80,271.44 581.78,271.19 581.75,270.94 581.73,270.69 581.70,270.44 581.68,270.19 581.65,269.94 581.61,269.69 581.58,269.44 581.54,269.19 581.50,268.94 581.47,268.69 581.44,268.44 581.40,268.19 581.36,267.94 581.31,267.68 581.26,267.43 581.20,267.18 581.14,266.93 581.06,266.68 580.97,266.43 580.82,266.18 580.60,265.93 580.31,265.68 579.96,265.43 579.58,265.18 579.17,264.93 578.74,264.68 578.30,264.43 577.87,264.18 577.41,263.93 576.91,263.68 576.36,263.43 575.78,263.18 575.17,262.93 574.54,262.68 573.90,262.43 573.24,262.18 572.58,261.93 571.89,261.68 571.14,261.43 570.35,261.18 569.53,260.93 568.71,260.68 567.90,260.43 567.13,260.18 566.42,259.93 565.78,259.68 565.21,259.43 564.62,259.18 564.03,258.93 563.46,258.68 562.92,258.43 562.44,258.18 562.04,257.93 561.73,257.68 561.54,257.43 561.48,257.18 561.43,256.93 561.39,256.68 561.35,256.43 561.31,256.18 561.28,255.93 561.26,255.68 561.24,255.43 561.22,255.18 561.21,254.93 561.20,254.68 561.20,254.43 561.22,254.18 561.30,253.93 561.42,253.68 561.55,253.43 561.70,253.18 561.84,252.93 562.00,252.68 562.18,252.43 562.39,252.17 562.61,251.92 562.84,251.67 563.07,251.42 563.32,251.17 563.56,250.92 563.80,250.67 564.03,250.42 564.25,250.17 564.46,249.92 564.66,249.67 564.85,249.42 565.04,249.17 565.22,248.92 565.40,248.67 565.58,248.42 565.77,248.17 565.95,247.92 566.15,247.67 566.35,247.42 566.55,247.17 566.77,246.92 567.00,246.67 567.24,246.42 567.49,246.17 567.74,245.92 568.00,245.67 568.26,245.42 568.52,245.17 568.78,244.92 569.03,244.67 569.28,244.42 569.53,244.17 569.78,243.92 570.02,243.67 570.27,243.42 570.52,243.17 570.78,242.92 571.03,242.67 571.28,242.42 571.54,242.17 571.79,241.92 572.04,241.67 572.30,241.42 572.56,241.17 572.83,240.92 573.10,240.67 573.38,240.42 573.67,240.17 573.96,239.92 574.25,239.67 574.55,239.42 574.86,239.17 575.18,238.92 575.51,238.67 575.85,238.42 576.20,238.17 576.58,237.92 576.98,237.67 577.40,237.42 577.84,237.17 578.29,236.92 578.75,236.66 579.20,236.41 579.64,236.16 580.08,235.91 580.50,235.66 580.93,235.41 581.36,235.16 581.78,234.91 582.20,234.66 582.62,234.41 583.01,234.16 583.39,233.91 583.75,233.66 584.10,233.41 584.44,233.16 584.77,232.91 585.10,232.66 585.41,232.41 585.70,232.16 585.98,231.91 586.24,231.66 586.48,231.41 586.72,231.16 586.94,230.91 587.16,230.66 587.37,230.41 587.56,230.16 587.74,229.91 587.90,229.66 588.04,229.41 588.17,229.16 588.28,228.91 588.38,228.66 588.48,228.41 588.57,228.16 588.65,227.91 588.73,227.66 588.80,227.41 588.86,227.16 588.92,226.91 588.98,226.66 589.04,226.41 589.10,226.16 589.15,225.91 589.19,225.66 589.23,225.41 589.27,225.16 589.29,224.91 589.31,224.66 589.32,224.41 589.33,224.16 589.34,223.91 589.35,223.66 589.36,223.41 589.37,223.16 589.38,222.91 589.38,222.66 589.39,222.41 589.40,222.16 589.40,221.91 589.41,221.66 589.42,221.41 589.42,221.15 589.43,220.90 589.43,220.65 589.44,220.40 589.44,220.15 589.45,219.90 589.45,219.65 589.46,219.40 589.46,219.15 589.47,218.90 589.48,218.65 589.49,218.40 589.49,218.15 589.50,217.90 589.52,217.65 589.53,217.40 589.55,217.15 589.56,216.90 589.58,216.65 589.61,216.40 589.63,216.15 589.65,215.90 589.68,215.65 589.70,215.40 589.73,215.15 589.75,214.90 589.78,214.65 589.80,214.40 589.83,214.15 589.85,213.90 589.88,213.65" fill="#E64B35" stroke="#7a2414" stroke-width="0.50" stroke-linejoin="round"/><line x1="561.27" y1="254.00" x2="618.53" y2="254.00" stroke="#000" stroke-opacity="0.40" stroke-width="1.00"/><polygon points="650.50,216.90 650.53,217.15 650.56,217.40 650.60,217.65 650.64,217.90 650.67,218.15 650.71,218.40 650.74,218.65 650.78,218.90 650.81,219.15 650.85,219.40 650.88,219.66 650.91,219.91 650.93,220.16 650.96,220.41 650.98,220.66 650.99,220.91 651.01,221.16 651.02,221.41 651.03,221.66 651.03,221.91 651.04,222.16 651.04,222.41 651.05,222.66 651.06,222.91 651.06,223.16 651.07,223.41 651.09,223.66 651.10,223.91 651.13,224.16 651.17,224.41 651.22,224.67 651.29,224.92 651.36,225.17 651.44,225.42 651.52,225.67 651.63,225.92 651.75,226.17 651.89,226.42 652.05,226.67 652.22,226.92 652.40,227.17 652.57,227.42 652.75,227.67 652.93,227.92 653.12,228.17 653.32,228.42 653.53,228.67 653.74,228.92 653.97,229.17 654.22,229.42 654.47,229.68 654.75,229.93 655.06,230.18 655.40,230.43 655.75,230.68 656.12,230.93 656.50,231.18 656.89,231.43 657.27,231.68 657.65,231.93 658.05,232.18 658.46,232.43 658.88,232.68 659.31,232.93 659.73,233.18 660.15,233.43 660.57,233.68 660.99,233.93 661.41,234.18 661.82,234.43 662.24,234.69 662.66,234.94 663.08,235.19 663.50,235.44 663.91,235.69 664.33,235.94 664.76,236.19 665.19,236.44 665.63,236.69 666.06,236.94 666.47,237.19 666.87,237.44 667.25,237.69 667.59,237.94 667.92,238.19 668.23,238.44 668.53,238.69 668.82,238.94 669.10,239.19 669.39,239.44 669.67,239.70 669.95,239.95 670.23,240.20 670.51,240.45 670.79,240.70 671.06,240.95 671.33,241.20 671.60,241.45 671.88,241.70 672.16,241.95 672.44,242.20 672.72,242.45 673.00,242.70 673.29,242.95 673.58,243.20 673.86,243.45 674.15,243.70 674.45,243.95 674.74,244.20 675.05,244.45 675.36,244.70 675.67,244.96 675.98,245.21 676.28,245.46 676.57,245.71 676.85,245.96 677.13,246.21 677.42,246.46 677.72,246.71 678.02,246.96 678.31,247.21 678.58,247.46 678.84,247.71 679.07,247.96 679.26,248.21 679.41,248.46 679.50,248.71 679.58,248.96 679.64,249.21 679.71,249.46 679.77,249.71 679.82,249.97 679.87,250.22 679.91,250.47 679.94,250.72 679.97,250.97 679.99,251.22 680.00,251.47 680.00,251.72 679.97,251.97 679.91,252.22 679.83,252.47 679.74,252.72 679.62,252.97 679.48,253.22 679.34,253.47 679.18,253.72 679.02,253.97 678.85,254.22 678.67,254.47 678.44,254.72 678.17,254.98 677.85,255.23 677.50,255.48 677.12,255.73 676.72,255.98 676.30,256.23 675.86,256.48 675.42,256.73 674.97,256.98 674.52,257.23 674.07,257.48 673.58,257.73 673.06,257.98 672.51,258.23 671.94,258.48 671.36,258.73 670.77,258.98 670.17,259.23 669.57,259.48 668.98,259.73 668.41,259.99 667.85,260.24 667.32,260.49 666.79,260.74 666.26,260.99 665.72,261.24 665.20,261.49 664.67,261.74 664.16,261.99 663.65,262.24 663.15,262.49 662.67,262.74 662.20,262.99 661.75,263.24 661.31,263.49 660.89,263.74 660.47,263.99 660.05,264.24 659.64,264.49 659.24,264.74 658.85,265.00 658.48,265.25 658.12,265.50 657.78,265.75 657.46,266.00 657.17,266.25 656.90,266.50 656.66,266.75 656.43,267.00 656.22,267.25 656.01,267.50 655.82,267.75 655.63,268.00 655.45,268.25 655.29,268.50 655.13,268.75 654.98,269.00 654.84,269.25 654.70,269.50 654.57,269.75 654.45,270.00 654.33,270.26 654.22,270.51 654.11,270.76 654.01,271.01 653.91,271.26 653.82,271.51 653.73,271.76 653.64,272.01 653.56,272.26 653.49,272.51 653.41,272.76 653.34,273.01 653.28,273.26 653.21,273.51 653.16,273.76 653.10,274.01 653.05,274.26 652.99,274.51 652.94,274.76 652.89,275.01 652.84,275.27 652.78,275.52 652.73,275.77 652.67,276.02 652.62,276.27 652.56,276.52 652.50,276.77 652.44,277.02 652.38,277.27 652.32,277.52 652.26,277.77 652.20,278.02 652.15,278.27 652.09,278.52 652.04,278.77 652.00,279.02 651.95,279.27 651.91,279.52 651.86,279.77 651.82,280.02 651.77,280.28 651.73,280.53 651.69,280.78 651.65,281.03 651.61,281.28 651.57,281.53 651.54,281.78 651.50,282.03 651.47,282.28 651.43,282.53 651.40,282.78 651.37,283.03 651.34,283.28 651.31,283.53 651.28,283.78 651.25,284.03 651.23,284.28 651.20,284.53 651.18,284.78 651.15,285.03 651.13,285.29 651.11,285.54 651.09,285.79 651.07,286.04 651.04,286.29 651.02,286.54 651.00,286.79 650.98,287.04 650.96,287.29 650.94,287.54 650.92,287.79 650.90,288.04 650.87,288.29 650.85,288.54 650.83,288.79 650.81,289.04 650.79,289.29 650.77,289.54 650.75,289.79 650.73,290.04 650.71,290.30 650.69,290.55 650.67,290.80 650.64,291.05 650.62,291.30 650.60,291.55 650.58,291.80 650.56,292.05 650.54,292.30 650.52,292.55 650.50,292.80 650.48,292.55 650.46,292.30 650.44,292.05 650.42,291.80 650.40,291.55 650.38,291.30 650.36,291.05 650.33,290.80 650.31,290.55 650.29,290.30 650.27,290.04 650.25,289.79 650.23,289.54 650.21,289.29 650.19,289.04 650.17,288.79 650.15,288.54 650.13,288.29 650.10,288.04 650.08,287.79 650.06,287.54 650.04,287.29 650.02,287.04 650.00,286.79 649.98,286.54 649.96,286.29 649.93,286.04 649.91,285.79 649.89,285.54 649.87,285.29 649.85,285.03 649.82,284.78 649.80,284.53 649.77,284.28 649.75,284.03 649.72,283.78 649.69,283.53 649.66,283.28 649.63,283.03 649.60,282.78 649.57,282.53 649.53,282.28 649.50,282.03 649.46,281.78 649.43,281.53 649.39,281.28 649.35,281.03 649.31,280.78 649.27,280.53 649.23,280.28 649.18,280.02 649.14,279.77 649.09,279.52 649.05,279.27 649.00,279.02 648.96,278.77 648.91,278.52 648.85,278.27 648.80,278.02 648.74,277.77 648.68,277.52 648.62,277.27 648.56,277.02 648.50,276.77 648.44,276.52 648.38,276.27 648.33,276.02 648.27,275.77 648.22,275.52 648.16,275.27 648.11,275.01 648.06,274.76 648.01,274.51 647.95,274.26 647.90,274.01 647.84,273.76 647.79,273.51 647.72,273.26 647.66,273.01 647.59,272.76 647.51,272.51 647.44,272.26 647.36,272.01 647.27,271.76 647.18,271.51 647.09,271.26 646.99,271.01 646.89,270.76 646.78,270.51 646.67,270.26 646.55,270.00 646.43,269.75 646.30,269.50 646.16,269.25 646.02,269.00 645.87,268.75 645.71,268.50 645.55,268.25 645.37,268.00 645.18,267.75 644.99,267.50 644.78,267.25 644.57,267.00 644.34,266.75 644.10,266.50 643.83,266.25 643.54,266.00 643.22,265.75 642.88,265.50 642.52,265.25 642.15,265.00 641.76,264.74 641.36,264.49 640.95,264.24 640.53,263.99 640.11,263.74 639.69,263.49 639.25,263.24 638.80,262.99 638.33,262.74 637.85,262.49 637.35,262.24 636.84,261.99 636.33,261.74 635.80,261.49 635.28,261.24 634.74,260.99 634.21,260.74 633.68,260.49 633.15,260.24 632.59,259.99 632.02,259.73 631.43,259.48 630.83,259.23 630.23,258.98 629.64,258.73 629.06,258.48 628.49,258.23 627.94,257.98 627.42,257.73 626.93,257.48 626.48,257.23 626.03,256.98 625.58,256.73 625.14,256.48 624.70,256.23 624.28,255.98 623.88,255.73 623.50,255.48 623.15,255.23 622.83,254.98 622.56,254.72 622.33,254.47 622.15,254.22 621.98,253.97 621.82,253.72 621.66,253.47 621.52,253.22 621.38,252.97 621.26,252.72 621.17,252.47 621.09,252.22 621.03,251.97 621.00,251.72 621.00,251.47 621.01,251.22 621.03,250.97 621.06,250.72 621.09,250.47 621.13,250.22 621.18,249.97 621.23,249.71 621.29,249.46 621.36,249.21 621.42,248.96 621.50,248.71 621.59,248.46 621.74,248.21 621.93,247.96 622.16,247.71 622.42,247.46 622.69,247.21 622.98,246.96 623.28,246.71 623.58,246.46 623.87,246.21 624.15,245.96 624.43,245.71 624.72,245.46 625.02,245.21 625.33,244.96 625.64,244.70 625.95,244.45 626.26,244.20 626.55,243.95 626.85,243.70 627.14,243.45 627.42,243.20 627.71,242.95 628.00,242.70 628.28,242.45 628.56,242.20 628.84,241.95 629.12,241.70 629.40,241.45 629.67,241.20 629.94,240.95 630.21,240.70 630.49,240.45 630.77,240.20 631.05,239.95 631.33,239.70 631.61,239.44 631.90,239.19 632.18,238.94 632.47,238.69 632.77,238.44 633.08,238.19 633.41,237.94 633.75,237.69 634.13,237.44 634.53,237.19 634.94,236.94 635.37,236.69 635.81,236.44 636.24,236.19 636.67,235.94 637.09,235.69 637.50,235.44 637.92,235.19 638.34,234.94 638.76,234.69 639.18,234.43 639.59,234.18 640.01,233.93 640.43,233.68 640.85,233.43 641.27,233.18 641.69,232.93 642.12,232.68 642.54,232.43 642.95,232.18 643.35,231.93 643.73,231.68 644.11,231.43 644.50,231.18 644.88,230.93 645.25,230.68 645.60,230.43 645.94,230.18 646.25,229.93 646.53,229.68 646.78,229.42 647.03,229.17 647.26,228.92 647.47,228.67 647.68,228.42 647.88,228.17 648.07,227.92 648.25,227.67 648.43,227.42 648.60,227.17 648.78,226.92 648.95,226.67 649.11,226.42 649.25,226.17 649.37,225.92 649.48,225.67 649.56,225.42 649.64,225.17 649.71,224.92 649.78,224.67 649.83,224.41 649.87,224.16 649.90,223.91 649.91,223.66 649.93,223.41 649.94,223.16 649.94,222.91 649.95,222.66 649.96,222.41 649.96,222.16 649.97,221.91 649.97,221.66 649.98,221.41 649.99,221.16 650.01,220.91 650.02,220.66 650.04,220.41 650.07,220.16 650.09,219.91 650.12,219.66 650.15,219.40 650.19,219.15 650.22,218.90 650.26,218.65 650.29,218.40 650.33,218.15 650.36,217.90 650.40,217.65 650.44,217.40 650.47,217.15" fill="#3C5488" stroke="#1e2d52" stroke-width="0.50" stroke-linejoin="round"/><line x1="621.02" y1="251.90" x2="679.98" y2="251.90" stroke="#000" stroke-opacity="0.40" stroke-width="1.00"/></svg>
</body></html>
